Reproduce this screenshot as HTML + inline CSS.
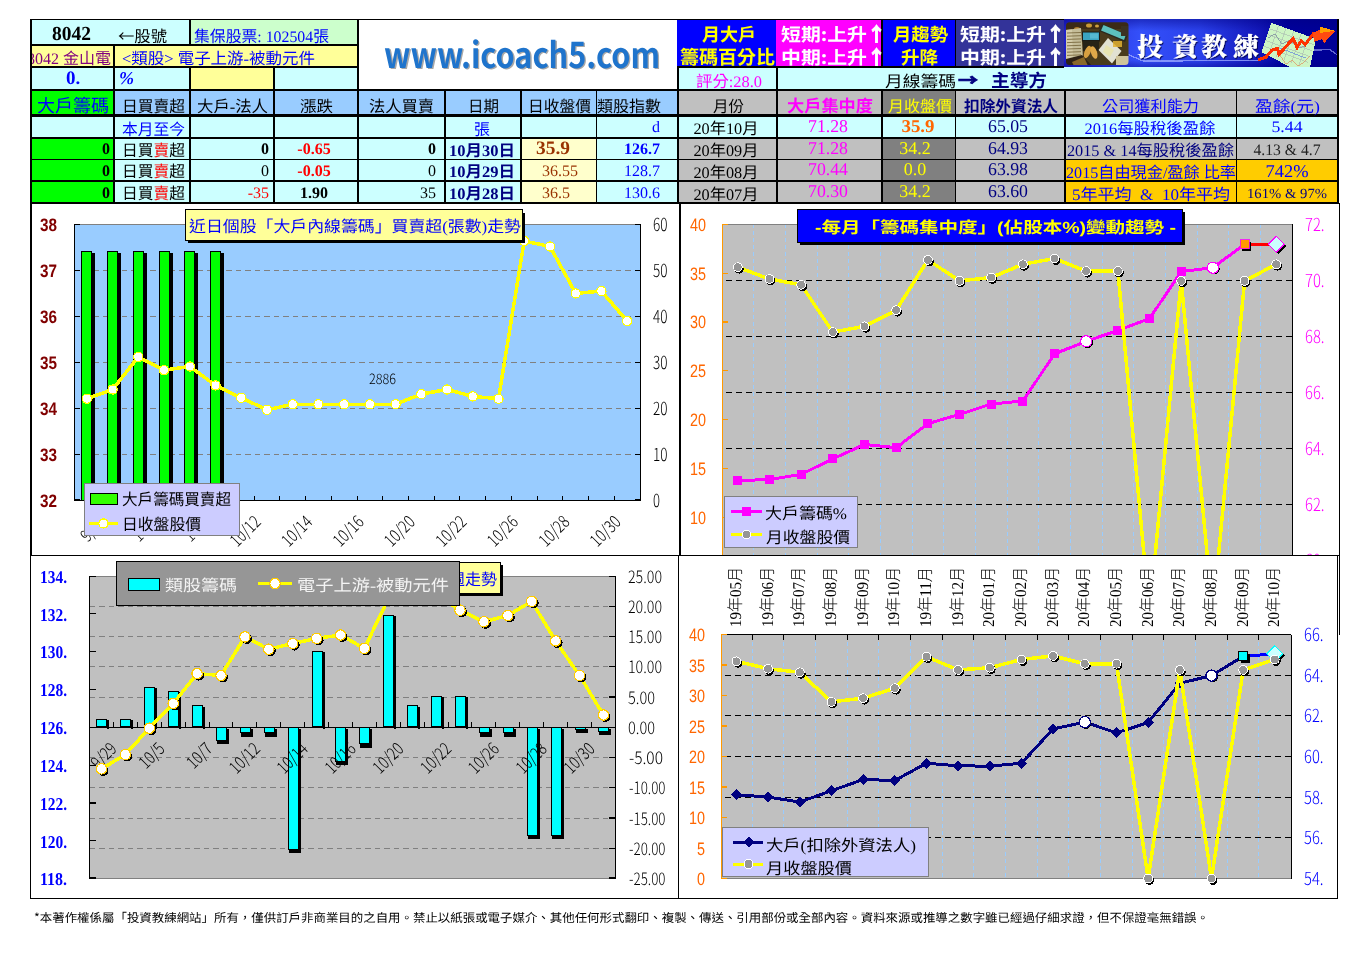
<!DOCTYPE html>
<html lang="zh-Hant"><head><meta charset="utf-8"><title>8042 金山電</title>
<style>
html,body{margin:0;padding:0;background:#fff;width:1366px;height:967px;overflow:hidden}
svg{display:block}
</style></head><body>
<svg width="1366" height="967" viewBox="0 0 1366 967" shape-rendering="crispEdges" text-rendering="geometricPrecision">
<rect x="30" y="19" width="1309" height="185" fill="#000" />
<rect x="32" y="20" width="157" height="24" fill="#CCFFFF" />
<rect x="191" y="20" width="166" height="24" fill="#CCFFCC" />
<rect x="359" y="20" width="318" height="69" fill="#FFFFFF" />
<rect x="677" y="20" width="99" height="46" fill="#0000FF" />
<rect x="776" y="20" width="105" height="46" fill="#FF00FF" />
<rect x="883" y="20" width="72" height="46" fill="#0000FF" />
<rect x="956" y="20" width="108" height="46" fill="#333399" />
<rect x="32" y="46" width="81" height="20" fill="#FFFF99" />
<rect x="115" y="46" width="242" height="20" fill="#FFFF99" />
<rect x="32" y="68" width="81" height="21" fill="#CCFFFF" />
<rect x="115" y="68" width="74" height="21" fill="#CCFFFF" />
<rect x="191" y="68" width="82" height="21" fill="#FFFF99" />
<rect x="275" y="68" width="82" height="21" fill="#CCFFFF" />
<rect x="679" y="68" width="97" height="21" fill="#CCFFFF" />
<rect x="778" y="68" width="559" height="21" fill="#CCFFFF" />
<rect x="1064" y="66" width="273" height="23" fill="#CCFFFF" />
<rect x="32" y="91" width="81" height="23" fill="#00FF00" />
<rect x="115" y="91" width="74" height="23" fill="#99CCFF" />
<rect x="191" y="91" width="82" height="23" fill="#99CCFF" />
<rect x="275" y="91" width="82" height="23" fill="#99CCFF" />
<rect x="359" y="91" width="85" height="23" fill="#99CCFF" />
<rect x="446" y="91" width="74" height="23" fill="#99CCFF" />
<rect x="522" y="91" width="74" height="23" fill="#99CCFF" />
<rect x="597" y="91" width="80" height="23" fill="#99CCFF" />
<rect x="679" y="91" width="97" height="23" fill="#C0C0C0" />
<rect x="778" y="91" width="103" height="23" fill="#C0C0C0" />
<rect x="883" y="91" width="72" height="23" fill="#808080" />
<rect x="956" y="91" width="108" height="23" fill="#C0C0C0" />
<rect x="1066" y="91" width="170" height="23" fill="#C0C0C0" />
<rect x="1237" y="91" width="100" height="23" fill="#C0C0C0" />
<rect x="32" y="117" width="81" height="20" fill="#CCFFFF" />
<rect x="115" y="117" width="74" height="20" fill="#CCFFFF" />
<rect x="191" y="117" width="82" height="20" fill="#CCFFFF" />
<rect x="275" y="117" width="82" height="20" fill="#CCFFFF" />
<rect x="359" y="117" width="85" height="20" fill="#CCFFFF" />
<rect x="446" y="117" width="74" height="20" fill="#CCFFFF" />
<rect x="522" y="117" width="74" height="20" fill="#CCFFFF" />
<rect x="597" y="117" width="80" height="20" fill="#CCFFFF" />
<rect x="679" y="117" width="97" height="20" fill="#CCFFFF" />
<rect x="778" y="117" width="103" height="20" fill="#CCFFFF" />
<rect x="883" y="117" width="72" height="20" fill="#CCFFFF" />
<rect x="956" y="117" width="108" height="20" fill="#CCFFFF" />
<rect x="1066" y="117" width="170" height="20" fill="#CCFFFF" />
<rect x="1237" y="117" width="100" height="20" fill="#CCFFFF" />
<rect x="32" y="139" width="81" height="20" fill="#00FF00" />
<rect x="115" y="139" width="74" height="20" fill="#CCFFFF" />
<rect x="191" y="139" width="82" height="20" fill="#CCFFFF" />
<rect x="275" y="139" width="82" height="20" fill="#CCFFFF" />
<rect x="359" y="139" width="85" height="20" fill="#CCFFFF" />
<rect x="446" y="139" width="74" height="20" fill="#CCFFFF" />
<rect x="522" y="139" width="74" height="20" fill="#FFFFCC" />
<rect x="597" y="139" width="80" height="20" fill="#CCFFFF" />
<rect x="32" y="160" width="81" height="20" fill="#00FF00" />
<rect x="115" y="160" width="74" height="20" fill="#CCFFFF" />
<rect x="191" y="160" width="82" height="20" fill="#CCFFFF" />
<rect x="275" y="160" width="82" height="20" fill="#CCFFFF" />
<rect x="359" y="160" width="85" height="20" fill="#CCFFFF" />
<rect x="446" y="160" width="74" height="20" fill="#CCFFFF" />
<rect x="522" y="160" width="74" height="20" fill="#FFFFCC" />
<rect x="597" y="160" width="80" height="20" fill="#CCFFFF" />
<rect x="32" y="182" width="81" height="20" fill="#00FF00" />
<rect x="115" y="182" width="74" height="20" fill="#CCFFFF" />
<rect x="191" y="182" width="82" height="20" fill="#CCFFFF" />
<rect x="275" y="182" width="82" height="20" fill="#CCFFFF" />
<rect x="359" y="182" width="85" height="20" fill="#CCFFFF" />
<rect x="446" y="182" width="74" height="20" fill="#CCFFFF" />
<rect x="522" y="182" width="74" height="20" fill="#FFFFCC" />
<rect x="597" y="182" width="80" height="20" fill="#CCFFFF" />
<rect x="679" y="139" width="97" height="20" fill="#C0C0C0" />
<rect x="778" y="139" width="103" height="20" fill="#C0C0C0" />
<rect x="883" y="139" width="72" height="20" fill="#808080" />
<rect x="956" y="139" width="108" height="20" fill="#C0C0C0" />
<rect x="679" y="160" width="97" height="20" fill="#C0C0C0" />
<rect x="778" y="160" width="103" height="20" fill="#C0C0C0" />
<rect x="883" y="160" width="72" height="20" fill="#808080" />
<rect x="956" y="160" width="108" height="20" fill="#C0C0C0" />
<rect x="679" y="182" width="97" height="20" fill="#C0C0C0" />
<rect x="778" y="182" width="103" height="20" fill="#C0C0C0" />
<rect x="883" y="182" width="72" height="20" fill="#808080" />
<rect x="956" y="182" width="108" height="20" fill="#C0C0C0" />
<rect x="1066" y="139" width="170" height="20" fill="#C0C0C0" />
<rect x="1237" y="139" width="100" height="20" fill="#C0C0C0" />
<rect x="1066" y="160" width="170" height="20" fill="#FFCC00" />
<rect x="1237" y="160" width="100" height="20" fill="#FFCC00" />
<rect x="1066" y="182" width="170" height="20" fill="#FFCC00" />
<rect x="1237" y="182" width="100" height="20" fill="#FFCC00" />
<text x="52" y="40" font-size="20" fill="#000" font-family="'Liberation Serif','Noto Sans CJK TC',serif" font-weight="bold" textLength="39" lengthAdjust="spacingAndGlyphs" >8042</text>
<text x="118" y="42" font-size="16" fill="#000" font-family="'Noto Sans CJK TC',sans-serif" textLength="49" lengthAdjust="spacingAndGlyphs" >←股號</text>
<text x="194" y="42" font-size="16" fill="#0000FF" font-family="'Liberation Serif','Noto Sans CJK TC',serif" textLength="135" lengthAdjust="spacingAndGlyphs" >集保股票: 102504張</text>
<defs><clipPath id="r2c1"><rect x="32" y="46" width="81" height="20"/></clipPath></defs>
<text x="111" y="64" font-size="16" fill="#800080" font-family="'Liberation Serif','Noto Sans CJK TC',serif" text-anchor="end" clip-path="url(#r2c1)">8042 金山電</text>
<text x="122" y="64" font-size="16" fill="#0000FF" font-family="'Liberation Serif','Noto Sans CJK TC',serif" textLength="193" lengthAdjust="spacingAndGlyphs" >&lt;類股&gt; 電子上游-被動元件</text>
<text x="66" y="84" font-size="19" fill="#0000FF" font-family="'Liberation Serif','Noto Sans CJK TC',serif" font-weight="bold" >0.</text>
<text x="119" y="84" font-size="18" fill="#0000FF" font-family="'Liberation Serif','Noto Sans CJK TC',serif" font-weight="bold" style="font-style:italic" >%</text>
<text x="696" y="87" font-size="16" fill="#FF00FF" font-family="'Liberation Serif','Noto Sans CJK TC',serif" textLength="66" lengthAdjust="spacingAndGlyphs" >評分:28.0</text>
<text x="885" y="87" font-size="16" fill="#000" font-family="'Liberation Serif','Noto Sans CJK TC',serif" textLength="71" lengthAdjust="spacingAndGlyphs" >月線籌碼</text>
<text x="958" y="86" font-size="16" fill="#000080" font-family="'Noto Sans CJK TC',sans-serif" font-weight="bold" textLength="20" lengthAdjust="spacingAndGlyphs" stroke="#000080" stroke-width="0.8">→</text>
<text x="991" y="87" font-size="18" fill="#000080" font-family="'Liberation Serif','Noto Sans CJK TC',serif" font-weight="bold" textLength="56" lengthAdjust="spacingAndGlyphs" >主導方</text>
<text x="702" y="41" font-size="18" fill="#FFFF00" font-family="'Liberation Sans','Noto Sans CJK TC',sans-serif" font-weight="bold" textLength="54" lengthAdjust="spacingAndGlyphs" >月大戶</text>
<text x="680" y="64" font-size="19" fill="#FFFF00" font-family="'Liberation Sans','Noto Sans CJK TC',sans-serif" font-weight="bold" textLength="95" lengthAdjust="spacingAndGlyphs" >籌碼百分比</text>
<text x="781" y="41" font-size="18" fill="#FFFFFF" font-family="'Noto Sans CJK TC',sans-serif" font-weight="bold" textLength="86" lengthAdjust="spacingAndGlyphs" >短期:上升</text>
<text x="867" y="41" font-size="19" fill="#FFFFFF" font-family="'Noto Sans CJK TC',sans-serif" font-weight="bold" stroke="#FFFFFF" stroke-width="0.9">↑</text>
<text x="781" y="64" font-size="18" fill="#FFFFFF" font-family="'Noto Sans CJK TC',sans-serif" font-weight="bold" textLength="86" lengthAdjust="spacingAndGlyphs" >中期:上升</text>
<text x="867" y="64" font-size="19" fill="#FFFFFF" font-family="'Noto Sans CJK TC',sans-serif" font-weight="bold" stroke="#FFFFFF" stroke-width="0.9">↑</text>
<text x="960" y="41" font-size="18" fill="#FFFFFF" font-family="'Noto Sans CJK TC',sans-serif" font-weight="bold" textLength="86" lengthAdjust="spacingAndGlyphs" >短期:上升</text>
<text x="1046" y="41" font-size="19" fill="#FFFFFF" font-family="'Noto Sans CJK TC',sans-serif" font-weight="bold" stroke="#FFFFFF" stroke-width="0.9">↑</text>
<text x="960" y="64" font-size="18" fill="#FFFFFF" font-family="'Noto Sans CJK TC',sans-serif" font-weight="bold" textLength="86" lengthAdjust="spacingAndGlyphs" >中期:上升</text>
<text x="1046" y="64" font-size="19" fill="#FFFFFF" font-family="'Noto Sans CJK TC',sans-serif" font-weight="bold" stroke="#FFFFFF" stroke-width="0.9">↑</text>
<text x="893" y="41" font-size="18" fill="#FFFF00" font-family="'Liberation Sans','Noto Sans CJK TC',sans-serif" font-weight="bold" textLength="55" lengthAdjust="spacingAndGlyphs" >月趨勢</text>
<text x="901" y="64" font-size="18" fill="#FFFF00" font-family="'Liberation Sans','Noto Sans CJK TC',sans-serif" font-weight="bold" textLength="37" lengthAdjust="spacingAndGlyphs" >升降</text>
<text x="37" y="112" font-size="18" fill="#0000FF" font-family="'Liberation Serif','Noto Sans CJK TC',serif" textLength="72" lengthAdjust="spacingAndGlyphs" >大戶籌碼</text>
<text x="122" y="112" font-size="16" fill="#000" font-family="'Liberation Serif','Noto Sans CJK TC',serif" textLength="63" lengthAdjust="spacingAndGlyphs" >日買賣超</text>
<text x="197" y="112" font-size="16" fill="#000" font-family="'Liberation Serif','Noto Sans CJK TC',serif" textLength="71" lengthAdjust="spacingAndGlyphs" >大戶-法人</text>
<text x="300" y="112" font-size="16" fill="#000" font-family="'Liberation Serif','Noto Sans CJK TC',serif" textLength="33" lengthAdjust="spacingAndGlyphs" >漲跌</text>
<text x="369" y="112" font-size="16" fill="#000" font-family="'Liberation Serif','Noto Sans CJK TC',serif" textLength="65" lengthAdjust="spacingAndGlyphs" >法人買賣</text>
<text x="468" y="112" font-size="16" fill="#000" font-family="'Liberation Serif','Noto Sans CJK TC',serif" textLength="31" lengthAdjust="spacingAndGlyphs" >日期</text>
<text x="528" y="112" font-size="16" fill="#000" font-family="'Liberation Serif','Noto Sans CJK TC',serif" textLength="63" lengthAdjust="spacingAndGlyphs" >日收盤價</text>
<text x="597" y="112" font-size="16" fill="#000" font-family="'Liberation Serif','Noto Sans CJK TC',serif" textLength="64" lengthAdjust="spacingAndGlyphs" >類股指數</text>
<text x="713" y="112" font-size="16" fill="#000" font-family="'Liberation Serif','Noto Sans CJK TC',serif" textLength="31" lengthAdjust="spacingAndGlyphs" >月份</text>
<text x="787" y="112" font-size="17" fill="#FF00FF" font-family="'Liberation Sans','Noto Sans CJK TC',sans-serif" font-weight="bold" textLength="86" lengthAdjust="spacingAndGlyphs" >大戶集中度</text>
<text x="888" y="112" font-size="16" fill="#FFFF00" font-family="'Liberation Serif','Noto Sans CJK TC',serif" textLength="64" lengthAdjust="spacingAndGlyphs" >月收盤價</text>
<text x="964" y="112" font-size="16" fill="#000080" font-family="'Liberation Sans','Noto Sans CJK TC',sans-serif" font-weight="bold" textLength="94" lengthAdjust="spacingAndGlyphs" >扣除外資法人</text>
<text x="1102" y="112" font-size="16" fill="#0000FF" font-family="'Liberation Serif','Noto Sans CJK TC',serif" textLength="97" lengthAdjust="spacingAndGlyphs" >公司獲利能力</text>
<text x="1255" y="112" font-size="16" fill="#0000FF" font-family="'Liberation Serif','Noto Sans CJK TC',serif" textLength="65" lengthAdjust="spacingAndGlyphs" >盈餘(元)</text>
<text x="122" y="135" font-size="16" fill="#0000FF" font-family="'Liberation Serif','Noto Sans CJK TC',serif" textLength="63" lengthAdjust="spacingAndGlyphs" >本月至今</text>
<text x="474" y="135" font-size="16" fill="#0000FF" font-family="'Liberation Serif','Noto Sans CJK TC',serif" >張</text>
<text x="660" y="132" font-size="16" fill="#0000FF" font-family="'Liberation Serif','Noto Sans CJK TC',serif" text-anchor="end" >d</text>
<text x="726" y="134" font-size="16" fill="#000" font-family="'Liberation Serif','Noto Sans CJK TC',serif" text-anchor="middle" textLength="65" lengthAdjust="spacingAndGlyphs" >20年10月</text>
<text x="828" y="132" font-size="18" fill="#FF00FF" font-family="'Liberation Serif','Noto Sans CJK TC',serif" text-anchor="middle" textLength="40" lengthAdjust="spacingAndGlyphs" >71.28</text>
<text x="918" y="132" font-size="18" fill="#FF6600" font-family="'Liberation Serif','Noto Sans CJK TC',serif" font-weight="bold" text-anchor="middle" textLength="33" lengthAdjust="spacingAndGlyphs" >35.9</text>
<text x="1008" y="132" font-size="18" fill="#000080" font-family="'Liberation Serif','Noto Sans CJK TC',serif" text-anchor="middle" textLength="40" lengthAdjust="spacingAndGlyphs" >65.05</text>
<text x="1150" y="134" font-size="16" fill="#0000FF" font-family="'Liberation Serif','Noto Sans CJK TC',serif" text-anchor="middle" textLength="131" lengthAdjust="spacingAndGlyphs" >2016每股稅後盈餘</text>
<text x="1287" y="132" font-size="16" fill="#0000FF" font-family="'Liberation Serif','Noto Sans CJK TC',serif" text-anchor="middle" textLength="31" lengthAdjust="spacingAndGlyphs" >5.44</text>
<text x="110" y="154" font-size="16" fill="#000" font-family="'Liberation Serif','Noto Sans CJK TC',serif" font-weight="bold" text-anchor="end" >0</text>
<text x="122" y="156" font-size="16" font-family="'Liberation Serif','Noto Sans CJK TC',serif" textLength="63" lengthAdjust="spacingAndGlyphs" fill="#000">日買<tspan fill="#FF0000">賣</tspan>超</text>
<text x="269" y="154" font-size="16" fill="#000" font-family="'Liberation Serif','Noto Sans CJK TC',serif" font-weight="bold" text-anchor="end" >0</text>
<text x="314" y="154" font-size="16" fill="#FF0000" font-family="'Liberation Serif','Noto Sans CJK TC',serif" font-weight="bold" text-anchor="middle" >-0.65</text>
<text x="436" y="154" font-size="16" fill="#000" font-family="'Liberation Serif','Noto Sans CJK TC',serif" font-weight="bold" text-anchor="end" >0</text>
<text x="449" y="156" font-size="16" fill="#000080" font-family="'Liberation Serif','Noto Sans CJK TC',serif" font-weight="bold" textLength="66" lengthAdjust="spacingAndGlyphs" >10月30日</text>
<text x="553" y="154" font-size="19" fill="#993300" font-family="'Liberation Serif','Noto Sans CJK TC',serif" font-weight="bold" text-anchor="middle" textLength="34" lengthAdjust="spacingAndGlyphs" >35.9</text>
<text x="660" y="154" font-size="16" fill="#0000FF" font-family="'Liberation Serif','Noto Sans CJK TC',serif" font-weight="bold" text-anchor="end" >126.7</text>
<text x="110" y="176" font-size="16" fill="#000" font-family="'Liberation Serif','Noto Sans CJK TC',serif" font-weight="bold" text-anchor="end" >0</text>
<text x="122" y="177" font-size="16" font-family="'Liberation Serif','Noto Sans CJK TC',serif" textLength="63" lengthAdjust="spacingAndGlyphs" fill="#000">日買<tspan fill="#FF0000">賣</tspan>超</text>
<text x="269" y="176" font-size="16" fill="#000" font-family="'Liberation Serif','Noto Sans CJK TC',serif" text-anchor="end" >0</text>
<text x="314" y="176" font-size="16" fill="#FF0000" font-family="'Liberation Serif','Noto Sans CJK TC',serif" font-weight="bold" text-anchor="middle" >-0.05</text>
<text x="436" y="176" font-size="16" fill="#000" font-family="'Liberation Serif','Noto Sans CJK TC',serif" text-anchor="end" >0</text>
<text x="449" y="177" font-size="16" fill="#000080" font-family="'Liberation Serif','Noto Sans CJK TC',serif" font-weight="bold" textLength="66" lengthAdjust="spacingAndGlyphs" >10月29日</text>
<text x="542" y="176" font-size="16" fill="#993300" font-family="'Liberation Serif','Noto Sans CJK TC',serif" >36.55</text>
<text x="660" y="176" font-size="16" fill="#0000FF" font-family="'Liberation Serif','Noto Sans CJK TC',serif" text-anchor="end" >128.7</text>
<text x="110" y="198" font-size="16" fill="#000" font-family="'Liberation Serif','Noto Sans CJK TC',serif" font-weight="bold" text-anchor="end" >0</text>
<text x="122" y="199" font-size="16" font-family="'Liberation Serif','Noto Sans CJK TC',serif" textLength="63" lengthAdjust="spacingAndGlyphs" fill="#000">日買<tspan fill="#FF0000">賣</tspan>超</text>
<text x="269" y="198" font-size="16" fill="#FF0000" font-family="'Liberation Serif','Noto Sans CJK TC',serif" text-anchor="end" >-35</text>
<text x="314" y="198" font-size="16" fill="#000" font-family="'Liberation Serif','Noto Sans CJK TC',serif" font-weight="bold" text-anchor="middle" >1.90</text>
<text x="436" y="198" font-size="16" fill="#000" font-family="'Liberation Serif','Noto Sans CJK TC',serif" text-anchor="end" >35</text>
<text x="449" y="199" font-size="16" fill="#000080" font-family="'Liberation Serif','Noto Sans CJK TC',serif" font-weight="bold" textLength="66" lengthAdjust="spacingAndGlyphs" >10月28日</text>
<text x="542" y="198" font-size="16" fill="#993300" font-family="'Liberation Serif','Noto Sans CJK TC',serif" >36.5</text>
<text x="660" y="198" font-size="16" fill="#0000FF" font-family="'Liberation Serif','Noto Sans CJK TC',serif" text-anchor="end" >130.6</text>
<text x="726" y="156" font-size="16" fill="#000" font-family="'Liberation Serif','Noto Sans CJK TC',serif" text-anchor="middle" textLength="65" lengthAdjust="spacingAndGlyphs" >20年09月</text>
<text x="828" y="154" font-size="18" fill="#FF00FF" font-family="'Liberation Serif','Noto Sans CJK TC',serif" text-anchor="middle" textLength="40" lengthAdjust="spacingAndGlyphs" >71.28</text>
<text x="915" y="154" font-size="18" fill="#FFFF00" font-family="'Liberation Serif','Noto Sans CJK TC',serif" text-anchor="middle" >34.2</text>
<text x="1008" y="154" font-size="18" fill="#000080" font-family="'Liberation Serif','Noto Sans CJK TC',serif" text-anchor="middle" textLength="40" lengthAdjust="spacingAndGlyphs" >64.93</text>
<text x="726" y="178" font-size="16" fill="#000" font-family="'Liberation Serif','Noto Sans CJK TC',serif" text-anchor="middle" textLength="65" lengthAdjust="spacingAndGlyphs" >20年08月</text>
<text x="828" y="175" font-size="18" fill="#FF00FF" font-family="'Liberation Serif','Noto Sans CJK TC',serif" text-anchor="middle" textLength="40" lengthAdjust="spacingAndGlyphs" >70.44</text>
<text x="915" y="175" font-size="18" fill="#FFFF00" font-family="'Liberation Serif','Noto Sans CJK TC',serif" text-anchor="middle" >0.0</text>
<text x="1008" y="175" font-size="18" fill="#000080" font-family="'Liberation Serif','Noto Sans CJK TC',serif" text-anchor="middle" textLength="40" lengthAdjust="spacingAndGlyphs" >63.98</text>
<text x="726" y="200" font-size="16" fill="#000" font-family="'Liberation Serif','Noto Sans CJK TC',serif" text-anchor="middle" textLength="65" lengthAdjust="spacingAndGlyphs" >20年07月</text>
<text x="828" y="197" font-size="18" fill="#FF00FF" font-family="'Liberation Serif','Noto Sans CJK TC',serif" text-anchor="middle" textLength="40" lengthAdjust="spacingAndGlyphs" >70.30</text>
<text x="915" y="197" font-size="18" fill="#FFFF00" font-family="'Liberation Serif','Noto Sans CJK TC',serif" text-anchor="middle" >34.2</text>
<text x="1008" y="197" font-size="18" fill="#000080" font-family="'Liberation Serif','Noto Sans CJK TC',serif" text-anchor="middle" textLength="40" lengthAdjust="spacingAndGlyphs" >63.60</text>
<text x="1067" y="156" font-size="16" fill="#000080" font-family="'Liberation Serif','Noto Sans CJK TC',serif" textLength="167" lengthAdjust="spacingAndGlyphs" >2015 &amp; 14每股稅後盈餘</text>
<text x="1287" y="155" font-size="16" fill="#222" font-family="'Liberation Serif','Noto Sans CJK TC',serif" text-anchor="middle" textLength="67" lengthAdjust="spacingAndGlyphs" >4.13 &amp; 4.7</text>
<text x="1066" y="178" font-size="16" fill="#0000FF" font-family="'Liberation Serif','Noto Sans CJK TC',serif" textLength="170" lengthAdjust="spacingAndGlyphs" >2015自由現金/盈餘 比率</text>
<text x="1287" y="177" font-size="18" fill="#0000FF" font-family="'Liberation Serif','Noto Sans CJK TC',serif" text-anchor="middle" textLength="43" lengthAdjust="spacingAndGlyphs" >742%</text>
<text x="1072" y="200" font-size="16" fill="#0000FF" font-family="'Liberation Serif','Noto Sans CJK TC',serif" textLength="158" lengthAdjust="spacingAndGlyphs" style="white-space:pre" xml:space="preserve">5年平均 &#160;&amp;&#160; 10年平均</text>
<text x="1287" y="198" font-size="14" fill="#000080" font-family="'Liberation Serif','Noto Sans CJK TC',serif" text-anchor="middle" textLength="80" lengthAdjust="spacingAndGlyphs" >161% &amp; 97%</text>
<text x="385.4" y="69.1" font-size="35.5" fill="#a8a8a8" font-family="'Noto Sans CJK TC',sans-serif" font-weight="bold" textLength="276" lengthAdjust="spacingAndGlyphs" >www.icoach5.com</text>
<text x="384" y="67.6" font-size="35.5" fill="#1F74CC" font-family="'Noto Sans CJK TC',sans-serif" font-weight="bold" textLength="276" lengthAdjust="spacingAndGlyphs" >www.icoach5.com</text>
<defs>
<linearGradient id="bg1" x1="0" y1="0" x2="1" y2="0">
<stop offset="0" stop-color="#2020c8"/><stop offset="0.28" stop-color="#3450fa"/><stop offset="0.5" stop-color="#2a40ea"/><stop offset="0.72" stop-color="#1216b8"/><stop offset="0.82" stop-color="#00009c"/><stop offset="1" stop-color="#000094"/>
</linearGradient>
<linearGradient id="bg2" x1="0" y1="0" x2="0" y2="1">
<stop offset="0" stop-color="#000080" stop-opacity="0.45"/><stop offset="0.25" stop-color="#000080" stop-opacity="0"/><stop offset="0.85" stop-color="#000080" stop-opacity="0"/><stop offset="1" stop-color="#000080" stop-opacity="0.4"/>
</linearGradient>
<clipPath id="bclip"><rect x="1064" y="19" width="273" height="48"/></clipPath>
<clipPath id="phclip"><rect x="1066" y="22.3" width="62.5" height="42.7" rx="3.5"/></clipPath>
<filter id="phblur" x="0" y="0" width="1" height="1"><feGaussianBlur stdDeviation="0.45"/></filter>
<filter id="tsh" x="-10%" y="-10%" width="130%" height="130%"><feDropShadow dx="1" dy="1.2" stdDeviation="0.6" flood-color="#000040" flood-opacity="0.8"/></filter>
</defs>
<g clip-path="url(#bclip)">
<rect x="1064" y="19" width="273" height="48" fill="url(#bg1)" />
<rect x="1064" y="19" width="273" height="48" fill="url(#bg2)" />
<polyline points="1128,54.5 1143,61 1258,60.6" fill="none" stroke="#9aa8ff" stroke-width="1.3" opacity="0.8"/>
<polyline points="1314,50 1330,49.7 1338,55.4" fill="none" stroke="#7a80e0" stroke-width="1.3" opacity="0.8"/>
<g clip-path="url(#phclip)" shape-rendering="auto" filter="url(#phblur)">
<rect x="1066" y="22" width="63" height="44" fill="#4a3a1e" />
<rect x="1066" y="22" width="63" height="7" fill="#3a2c14"/>
<ellipse cx="1089" cy="25.5" rx="3" ry="2" fill="#c89a38"/>
<ellipse cx="1097" cy="26" rx="2" ry="1.6" fill="#d0a040"/>
<ellipse cx="1077" cy="29" rx="3" ry="2" fill="#b07a28"/>
<polygon points="1066,30 1081,28 1083,58 1066,60" fill="#c4bc98"/>
<polygon points="1066,30 1072,29.5 1073,59 1066,60" fill="#d4ccaa"/>
<line x1="1067" y1="33.0" x2="1081" y2="32.5" stroke="#7a6a40" stroke-width="0.9"/>
<line x1="1067" y1="36.2" x2="1081" y2="35.7" stroke="#7a6a40" stroke-width="0.9"/>
<line x1="1067" y1="39.4" x2="1081" y2="38.9" stroke="#7a6a40" stroke-width="0.9"/>
<line x1="1067" y1="42.6" x2="1081" y2="42.1" stroke="#7a6a40" stroke-width="0.9"/>
<line x1="1067" y1="45.8" x2="1081" y2="45.3" stroke="#7a6a40" stroke-width="0.9"/>
<line x1="1067" y1="49.0" x2="1081" y2="48.5" stroke="#7a6a40" stroke-width="0.9"/>
<line x1="1067" y1="52.2" x2="1081" y2="51.7" stroke="#7a6a40" stroke-width="0.9"/>
<line x1="1067" y1="55.4" x2="1081" y2="54.9" stroke="#7a6a40" stroke-width="0.9"/>
<rect x="1082" y="31.5" width="18" height="10" fill="#1e1a12"/>
<rect x="1083" y="32.5" width="16" height="7.5" fill="#3aa4c2"/>
<rect x="1090" y="33.5" width="8" height="5" fill="#56b8d0"/>
<rect x="1083" y="41" width="16" height="10" fill="#262014"/>
<polygon points="1102,24 1128,35 1125,42 1099,31" fill="#2a2a20"/>
<polygon points="1103.5,25 1126,34.5 1124,40 1101,30.5" fill="#5cc0bc"/>
<polygon points="1108,38 1121.5,51 1112,63.5 1098.5,50" fill="#e2e2d2"/>
<polygon points="1106,45 1114,50 1110,57 1103,52" fill="#e8e4b0"/>
<ellipse cx="1087.5" cy="52" rx="3" ry="6.5" fill="#d8a040" transform="rotate(22 1087.5 52)"/>
<ellipse cx="1094" cy="52.5" rx="3" ry="6.5" fill="#e0a848" transform="rotate(-18 1094 52.5)"/>
<polygon points="1066,59 1082,55 1092,66 1066,66" fill="#2e2414"/>
<polygon points="1072,62 1084,57 1088,66 1074,66" fill="#a07830" opacity="0.8"/>
<rect x="1116" y="56" width="13" height="10" fill="#cfc49a"/>
<rect x="1113" y="41" width="9" height="6" fill="#e0b030" opacity="0.85"/>
<rect x="1121" y="26" width="8" height="10" fill="#3a3020"/>
</g>
<g filter="url(#tsh)">
<text x="1137 1172 1201 1233" y="55.5" font-size="26" font-weight="900" fill="#fff" font-family="'Noto Serif CJK SC',serif">投資教練</text>
</g>
<polygon points="1271.2,22.7 1316,39 1310,67 1290,67 1261.4,52" fill="#cdf5c4"/>
<line x1="1278.7" y1="25.4" x2="1268.9" y2="54.7" stroke="#a8b8b0" stroke-width="0.6"/>
<line x1="1286.1" y1="28.1" x2="1276.3" y2="57.4" stroke="#a8b8b0" stroke-width="0.6"/>
<line x1="1293.6" y1="30.9" x2="1283.8" y2="60.2" stroke="#a8b8b0" stroke-width="0.6"/>
<line x1="1301.1" y1="33.6" x2="1291.3" y2="62.9" stroke="#a8b8b0" stroke-width="0.6"/>
<line x1="1308.5" y1="36.3" x2="1298.7" y2="65.6" stroke="#a8b8b0" stroke-width="0.6"/>
<line x1="1269.2" y1="28.6" x2="1314.0" y2="44.9" stroke="#a8b8b0" stroke-width="0.6"/>
<line x1="1267.3" y1="34.4" x2="1312.1" y2="50.7" stroke="#a8b8b0" stroke-width="0.6"/>
<line x1="1265.3" y1="40.3" x2="1310.1" y2="56.6" stroke="#a8b8b0" stroke-width="0.6"/>
<line x1="1263.4" y1="46.1" x2="1308.2" y2="62.4" stroke="#a8b8b0" stroke-width="0.6"/>
<polyline points="1268,38 1275,34 1282,44 1290,40 1298,48 1306,46" fill="none" stroke="#8090a0" stroke-width="0.8"/>
<polyline points="1280,48 1290,52 1300,56 1306,58" fill="none" stroke="#6080e0" stroke-width="0.7"/>
<polyline points="1278,52 1282,58 1286,64 1292,60 1298,66 1304,62 1310,56" fill="none" stroke="#e09060" stroke-width="0.7"/>
<polyline points="1258,59.8 1265.5,57.4 1272.2,50 1277.6,48.6 1279,54.4 1293.1,38.5 1297.1,47.3 1301.2,40.9 1305.2,44.6 1313.3,33.8 1318,36" fill="none" stroke="#ff3300" stroke-width="3.2" stroke-linejoin="miter"/>
<polygon points="1313,33 1320,29.5 1319.5,26.5 1335.2,30.8 1324,43.3 1322,39 1314,42" fill="#ff4a10"/>
<polygon points="1319.5,26.5 1335.2,30.8 1320,33" fill="#ffa000"/>
</g>
<rect x="74" y="224.5" width="566" height="276" fill="#99CCFF" />
<line x1="74" y1="224.5" x2="640" y2="224.5" stroke="#808080" stroke-width="1" />
<line x1="74" y1="454.4" x2="640" y2="454.4" stroke="#808080" stroke-width="1" stroke-dasharray="5.5,4" />
<line x1="74" y1="408.4" x2="640" y2="408.4" stroke="#808080" stroke-width="1" stroke-dasharray="5.5,4" />
<line x1="74" y1="362.4" x2="640" y2="362.4" stroke="#808080" stroke-width="1" stroke-dasharray="5.5,4" />
<line x1="74" y1="316.4" x2="640" y2="316.4" stroke="#808080" stroke-width="1" stroke-dasharray="5.5,4" />
<line x1="74" y1="270.4" x2="640" y2="270.4" stroke="#808080" stroke-width="1" stroke-dasharray="5.5,4" />
<rect x="92" y="253" width="2.5" height="248" fill="#000" />
<rect x="81.5" y="251.5" width="10" height="249" fill="#00FF00" stroke="#000" stroke-width="1"/>
<rect x="118" y="253" width="2.5" height="248" fill="#000" />
<rect x="107.5" y="251.5" width="10" height="249" fill="#00FF00" stroke="#000" stroke-width="1"/>
<rect x="144" y="253" width="2.5" height="248" fill="#000" />
<rect x="133.5" y="251.5" width="10" height="249" fill="#00FF00" stroke="#000" stroke-width="1"/>
<rect x="170" y="253" width="2.5" height="248" fill="#000" />
<rect x="159.5" y="251.5" width="10" height="249" fill="#00FF00" stroke="#000" stroke-width="1"/>
<rect x="195" y="253" width="2.5" height="248" fill="#000" />
<rect x="184.5" y="251.5" width="10" height="249" fill="#00FF00" stroke="#000" stroke-width="1"/>
<rect x="221" y="253" width="2.5" height="248" fill="#000" />
<rect x="210.5" y="251.5" width="10" height="249" fill="#00FF00" stroke="#000" stroke-width="1"/>
<line x1="74.5" y1="224" x2="74.5" y2="501" stroke="#000" stroke-width="1" />
<line x1="640.5" y1="224" x2="640.5" y2="501" stroke="#000" stroke-width="1" />
<line x1="74" y1="500.7" x2="641" y2="500.7" stroke="#000" stroke-width="1.5" />
<line x1="99.72727272727272" y1="495.5" x2="99.72727272727272" y2="500.5" stroke="#000" stroke-width="1" />
<line x1="125.45454545454545" y1="495.5" x2="125.45454545454545" y2="500.5" stroke="#000" stroke-width="1" />
<line x1="151.1818181818182" y1="495.5" x2="151.1818181818182" y2="500.5" stroke="#000" stroke-width="1" />
<line x1="176.9090909090909" y1="495.5" x2="176.9090909090909" y2="500.5" stroke="#000" stroke-width="1" />
<line x1="202.63636363636363" y1="495.5" x2="202.63636363636363" y2="500.5" stroke="#000" stroke-width="1" />
<line x1="228.36363636363637" y1="495.5" x2="228.36363636363637" y2="500.5" stroke="#000" stroke-width="1" />
<line x1="254.0909090909091" y1="495.5" x2="254.0909090909091" y2="500.5" stroke="#000" stroke-width="1" />
<line x1="279.8181818181818" y1="495.5" x2="279.8181818181818" y2="500.5" stroke="#000" stroke-width="1" />
<line x1="305.5454545454545" y1="495.5" x2="305.5454545454545" y2="500.5" stroke="#000" stroke-width="1" />
<line x1="331.27272727272725" y1="495.5" x2="331.27272727272725" y2="500.5" stroke="#000" stroke-width="1" />
<line x1="357.0" y1="495.5" x2="357.0" y2="500.5" stroke="#000" stroke-width="1" />
<line x1="382.72727272727275" y1="495.5" x2="382.72727272727275" y2="500.5" stroke="#000" stroke-width="1" />
<line x1="408.45454545454544" y1="495.5" x2="408.45454545454544" y2="500.5" stroke="#000" stroke-width="1" />
<line x1="434.1818181818182" y1="495.5" x2="434.1818181818182" y2="500.5" stroke="#000" stroke-width="1" />
<line x1="459.9090909090909" y1="495.5" x2="459.9090909090909" y2="500.5" stroke="#000" stroke-width="1" />
<line x1="485.6363636363636" y1="495.5" x2="485.6363636363636" y2="500.5" stroke="#000" stroke-width="1" />
<line x1="511.3636363636364" y1="495.5" x2="511.3636363636364" y2="500.5" stroke="#000" stroke-width="1" />
<line x1="537.090909090909" y1="495.5" x2="537.090909090909" y2="500.5" stroke="#000" stroke-width="1" />
<line x1="562.8181818181818" y1="495.5" x2="562.8181818181818" y2="500.5" stroke="#000" stroke-width="1" />
<line x1="588.5454545454545" y1="495.5" x2="588.5454545454545" y2="500.5" stroke="#000" stroke-width="1" />
<line x1="614.2727272727273" y1="495.5" x2="614.2727272727273" y2="500.5" stroke="#000" stroke-width="1" />
<line x1="635" y1="499.47999999999985" x2="640" y2="499.47999999999985" stroke="#000" stroke-width="1.2" />
<line x1="74" y1="499.47999999999985" x2="80" y2="499.47999999999985" stroke="#000" stroke-width="1.2" />
<line x1="635" y1="454.4" x2="640" y2="454.4" stroke="#000" stroke-width="1.2" />
<line x1="74" y1="454.4" x2="80" y2="454.4" stroke="#000" stroke-width="1.2" />
<line x1="635" y1="408.4" x2="640" y2="408.4" stroke="#000" stroke-width="1.2" />
<line x1="74" y1="408.4" x2="80" y2="408.4" stroke="#000" stroke-width="1.2" />
<line x1="635" y1="362.4" x2="640" y2="362.4" stroke="#000" stroke-width="1.2" />
<line x1="74" y1="362.4" x2="80" y2="362.4" stroke="#000" stroke-width="1.2" />
<line x1="635" y1="316.4" x2="640" y2="316.4" stroke="#000" stroke-width="1.2" />
<line x1="74" y1="316.4" x2="80" y2="316.4" stroke="#000" stroke-width="1.2" />
<line x1="635" y1="270.4" x2="640" y2="270.4" stroke="#000" stroke-width="1.2" />
<line x1="74" y1="270.4" x2="80" y2="270.4" stroke="#000" stroke-width="1.2" />
<line x1="635" y1="224.8599999999999" x2="640" y2="224.8599999999999" stroke="#000" stroke-width="1.2" />
<line x1="74" y1="224.8599999999999" x2="80" y2="224.8599999999999" stroke="#000" stroke-width="1.2" />
<polyline points="86.9,398.7 112.6,389.5 138.3,356.9 164.0,370.2 189.8,366.5 215.5,385.4 241.2,397.8 267.0,409.8 292.7,404.3 318.4,404.3 344.1,404.3 369.9,404.3 395.6,404.3 421.3,394.1 447.0,389.5 472.8,396.4 498.5,398.7 524.2,241.0 550.0,246.5 575.7,293.4 601.4,291.1 627.1,321.0" fill="none" stroke="#FFFF00" stroke-width="3.5" stroke-linejoin="round"/>
<circle cx="86.9" cy="398.7" r="4.6" fill="#FFFFFF" stroke="#FFFF00" stroke-width="1.2"/>
<circle cx="112.6" cy="389.5" r="4.6" fill="#FFFFFF" stroke="#FFFF00" stroke-width="1.2"/>
<circle cx="138.3" cy="356.9" r="4.6" fill="#FFFFFF" stroke="#FFFF00" stroke-width="1.2"/>
<circle cx="164.0" cy="370.2" r="4.6" fill="#FFFFFF" stroke="#FFFF00" stroke-width="1.2"/>
<circle cx="189.8" cy="366.5" r="4.6" fill="#FFFFFF" stroke="#FFFF00" stroke-width="1.2"/>
<circle cx="215.5" cy="385.4" r="4.6" fill="#FFFFFF" stroke="#FFFF00" stroke-width="1.2"/>
<circle cx="241.2" cy="397.8" r="4.6" fill="#FFFFFF" stroke="#FFFF00" stroke-width="1.2"/>
<circle cx="267.0" cy="409.8" r="4.6" fill="#FFFFFF" stroke="#FFFF00" stroke-width="1.2"/>
<circle cx="292.7" cy="404.3" r="4.6" fill="#FFFFFF" stroke="#FFFF00" stroke-width="1.2"/>
<circle cx="318.4" cy="404.3" r="4.6" fill="#FFFFFF" stroke="#FFFF00" stroke-width="1.2"/>
<circle cx="344.1" cy="404.3" r="4.6" fill="#FFFFFF" stroke="#FFFF00" stroke-width="1.2"/>
<circle cx="369.9" cy="404.3" r="4.6" fill="#FFFFFF" stroke="#FFFF00" stroke-width="1.2"/>
<circle cx="395.6" cy="404.3" r="4.6" fill="#FFFFFF" stroke="#FFFF00" stroke-width="1.2"/>
<circle cx="421.3" cy="394.1" r="4.6" fill="#FFFFFF" stroke="#FFFF00" stroke-width="1.2"/>
<circle cx="447.0" cy="389.5" r="4.6" fill="#FFFFFF" stroke="#FFFF00" stroke-width="1.2"/>
<circle cx="472.8" cy="396.4" r="4.6" fill="#FFFFFF" stroke="#FFFF00" stroke-width="1.2"/>
<circle cx="498.5" cy="398.7" r="4.6" fill="#FFFFFF" stroke="#FFFF00" stroke-width="1.2"/>
<circle cx="524.2" cy="241.0" r="4.6" fill="#FFFFFF" stroke="#FFFF00" stroke-width="1.2"/>
<circle cx="550.0" cy="246.5" r="4.6" fill="#FFFFFF" stroke="#FFFF00" stroke-width="1.2"/>
<circle cx="575.7" cy="293.4" r="4.6" fill="#FFFFFF" stroke="#FFFF00" stroke-width="1.2"/>
<circle cx="601.4" cy="291.1" r="4.6" fill="#FFFFFF" stroke="#FFFF00" stroke-width="1.2"/>
<circle cx="627.1" cy="321.0" r="4.6" fill="#FFFFFF" stroke="#FFFF00" stroke-width="1.2"/>
<text x="57" y="230.89999999999998" font-size="18" fill="#800000" font-family="'Liberation Sans','Noto Sans CJK TC',sans-serif" font-weight="bold" text-anchor="end" textLength="17" lengthAdjust="spacingAndGlyphs" >38</text>
<text x="57" y="276.9" font-size="18" fill="#800000" font-family="'Liberation Sans','Noto Sans CJK TC',sans-serif" font-weight="bold" text-anchor="end" textLength="17" lengthAdjust="spacingAndGlyphs" >37</text>
<text x="57" y="322.9" font-size="18" fill="#800000" font-family="'Liberation Sans','Noto Sans CJK TC',sans-serif" font-weight="bold" text-anchor="end" textLength="17" lengthAdjust="spacingAndGlyphs" >36</text>
<text x="57" y="368.9" font-size="18" fill="#800000" font-family="'Liberation Sans','Noto Sans CJK TC',sans-serif" font-weight="bold" text-anchor="end" textLength="17" lengthAdjust="spacingAndGlyphs" >35</text>
<text x="57" y="414.9" font-size="18" fill="#800000" font-family="'Liberation Sans','Noto Sans CJK TC',sans-serif" font-weight="bold" text-anchor="end" textLength="17" lengthAdjust="spacingAndGlyphs" >34</text>
<text x="57" y="460.9" font-size="18" fill="#800000" font-family="'Liberation Sans','Noto Sans CJK TC',sans-serif" font-weight="bold" text-anchor="end" textLength="17" lengthAdjust="spacingAndGlyphs" >33</text>
<text x="57" y="506.9" font-size="18" fill="#800000" font-family="'Liberation Sans','Noto Sans CJK TC',sans-serif" font-weight="bold" text-anchor="end" textLength="17" lengthAdjust="spacingAndGlyphs" >32</text>
<text x="653" y="231.09999999999997" font-size="18" fill="#000" font-family="'Noto Sans CJK TC',sans-serif" font-weight="300" textLength="14.5" lengthAdjust="spacingAndGlyphs" >60</text>
<text x="653" y="277.09999999999997" font-size="18" fill="#000" font-family="'Noto Sans CJK TC',sans-serif" font-weight="300" textLength="14.5" lengthAdjust="spacingAndGlyphs" >50</text>
<text x="653" y="323.09999999999997" font-size="18" fill="#000" font-family="'Noto Sans CJK TC',sans-serif" font-weight="300" textLength="14.5" lengthAdjust="spacingAndGlyphs" >40</text>
<text x="653" y="369.09999999999997" font-size="18" fill="#000" font-family="'Noto Sans CJK TC',sans-serif" font-weight="300" textLength="14.5" lengthAdjust="spacingAndGlyphs" >30</text>
<text x="653" y="415.09999999999997" font-size="18" fill="#000" font-family="'Noto Sans CJK TC',sans-serif" font-weight="300" textLength="14.5" lengthAdjust="spacingAndGlyphs" >20</text>
<text x="653" y="461.09999999999997" font-size="18" fill="#000" font-family="'Noto Sans CJK TC',sans-serif" font-weight="300" textLength="14.5" lengthAdjust="spacingAndGlyphs" >10</text>
<text x="653" y="507.09999999999997" font-size="18" fill="#000" font-family="'Noto Sans CJK TC',sans-serif" font-weight="300" textLength="7" lengthAdjust="spacingAndGlyphs" >0</text>
<text x="107.6" y="523" font-size="17" font-weight="300" font-family="'Noto Sans CJK TC',sans-serif" text-anchor="end" textLength="28.0" lengthAdjust="spacingAndGlyphs" transform="rotate(-45 107.6 523)">9/29</text>
<text x="159.0" y="523" font-size="17" font-weight="300" font-family="'Noto Sans CJK TC',sans-serif" text-anchor="end" textLength="28.0" lengthAdjust="spacingAndGlyphs" transform="rotate(-45 159.0 523)">10/5</text>
<text x="210.5" y="523" font-size="17" font-weight="300" font-family="'Noto Sans CJK TC',sans-serif" text-anchor="end" textLength="28.0" lengthAdjust="spacingAndGlyphs" transform="rotate(-45 210.5 523)">10/7</text>
<text x="262.0" y="523" font-size="17" font-weight="300" font-family="'Noto Sans CJK TC',sans-serif" text-anchor="end" textLength="35.0" lengthAdjust="spacingAndGlyphs" transform="rotate(-45 262.0 523)">10/12</text>
<text x="313.4" y="523" font-size="17" font-weight="300" font-family="'Noto Sans CJK TC',sans-serif" text-anchor="end" textLength="35.0" lengthAdjust="spacingAndGlyphs" transform="rotate(-45 313.4 523)">10/14</text>
<text x="364.9" y="523" font-size="17" font-weight="300" font-family="'Noto Sans CJK TC',sans-serif" text-anchor="end" textLength="35.0" lengthAdjust="spacingAndGlyphs" transform="rotate(-45 364.9 523)">10/16</text>
<text x="416.3" y="523" font-size="17" font-weight="300" font-family="'Noto Sans CJK TC',sans-serif" text-anchor="end" textLength="35.0" lengthAdjust="spacingAndGlyphs" transform="rotate(-45 416.3 523)">10/20</text>
<text x="467.8" y="523" font-size="17" font-weight="300" font-family="'Noto Sans CJK TC',sans-serif" text-anchor="end" textLength="35.0" lengthAdjust="spacingAndGlyphs" transform="rotate(-45 467.8 523)">10/22</text>
<text x="519.2" y="523" font-size="17" font-weight="300" font-family="'Noto Sans CJK TC',sans-serif" text-anchor="end" textLength="35.0" lengthAdjust="spacingAndGlyphs" transform="rotate(-45 519.2 523)">10/26</text>
<text x="570.7" y="523" font-size="17" font-weight="300" font-family="'Noto Sans CJK TC',sans-serif" text-anchor="end" textLength="35.0" lengthAdjust="spacingAndGlyphs" transform="rotate(-45 570.7 523)">10/28</text>
<text x="622.1" y="523" font-size="17" font-weight="300" font-family="'Noto Sans CJK TC',sans-serif" text-anchor="end" textLength="35.0" lengthAdjust="spacingAndGlyphs" transform="rotate(-45 622.1 523)">10/30</text>
<text x="369" y="384" font-size="14" fill="#000" font-family="'Noto Sans CJK TC',sans-serif" font-weight="300" textLength="27" lengthAdjust="spacingAndGlyphs" >2886</text>
<rect x="188" y="212.5" width="337" height="30.5" fill="#000" />
<rect x="185" y="209.5" width="337" height="30.5" fill="#FFFF99" stroke="#000" stroke-width="1"/>
<text x="189" y="232" font-size="16" fill="#0000FF" font-family="'Liberation Serif','Noto Sans CJK TC',serif" textLength="332" lengthAdjust="spacingAndGlyphs" >近日個股「大戶內線籌碼」買賣超(張數)走勢</text>
<rect x="84.5" y="483.5" width="155" height="52" fill="#CCCCFF" stroke="#808080" stroke-width="1"/>
<rect x="90" y="493" width="27" height="11" fill="#33FF00" stroke="#000" stroke-width="1"/>
<text x="122" y="505" font-size="16" fill="#000" font-family="'Liberation Serif','Noto Sans CJK TC',serif" textLength="109" lengthAdjust="spacingAndGlyphs" >大戶籌碼買賣超</text>
<line x1="89" y1="523.5" x2="118" y2="523.5" stroke="#FFFF00" stroke-width="3" />
<circle cx="103.5" cy="523.5" r="4.6" fill="#FFFFFF" stroke="#FFFF00" stroke-width="1.2"/>
<text x="122" y="530" font-size="16" fill="#000" font-family="'Liberation Serif','Noto Sans CJK TC',serif" textLength="79" lengthAdjust="spacingAndGlyphs" >日收盤股價</text>
<rect x="30" y="203" width="2" height="352" fill="#000" />
<rect x="679" y="203" width="2" height="352" fill="#000" />
<defs><clipPath id="c2clip"><rect x="681" y="204" width="658" height="351"/></clipPath></defs>
<g clip-path="url(#c2clip)">
<rect x="722.0" y="224" width="570.0" height="340" fill="#C0C0C0" />
<line x1="753.67" y1="224" x2="753.67" y2="560" stroke="#99CCFF" stroke-width="1" stroke-dasharray="4,3" />
<line x1="785.34" y1="224" x2="785.34" y2="560" stroke="#99CCFF" stroke-width="1" stroke-dasharray="4,3" />
<line x1="817.01" y1="224" x2="817.01" y2="560" stroke="#99CCFF" stroke-width="1" stroke-dasharray="4,3" />
<line x1="848.6800000000001" y1="224" x2="848.6800000000001" y2="560" stroke="#99CCFF" stroke-width="1" stroke-dasharray="4,3" />
<line x1="880.35" y1="224" x2="880.35" y2="560" stroke="#99CCFF" stroke-width="1" stroke-dasharray="4,3" />
<line x1="912.02" y1="224" x2="912.02" y2="560" stroke="#99CCFF" stroke-width="1" stroke-dasharray="4,3" />
<line x1="943.69" y1="224" x2="943.69" y2="560" stroke="#99CCFF" stroke-width="1" stroke-dasharray="4,3" />
<line x1="975.36" y1="224" x2="975.36" y2="560" stroke="#99CCFF" stroke-width="1" stroke-dasharray="4,3" />
<line x1="1007.03" y1="224" x2="1007.03" y2="560" stroke="#99CCFF" stroke-width="1" stroke-dasharray="4,3" />
<line x1="1038.7" y1="224" x2="1038.7" y2="560" stroke="#99CCFF" stroke-width="1" stroke-dasharray="4,3" />
<line x1="1070.37" y1="224" x2="1070.37" y2="560" stroke="#99CCFF" stroke-width="1" stroke-dasharray="4,3" />
<line x1="1102.04" y1="224" x2="1102.04" y2="560" stroke="#99CCFF" stroke-width="1" stroke-dasharray="4,3" />
<line x1="1133.71" y1="224" x2="1133.71" y2="560" stroke="#99CCFF" stroke-width="1" stroke-dasharray="4,3" />
<line x1="1165.38" y1="224" x2="1165.38" y2="560" stroke="#99CCFF" stroke-width="1" stroke-dasharray="4,3" />
<line x1="1197.05" y1="224" x2="1197.05" y2="560" stroke="#99CCFF" stroke-width="1" stroke-dasharray="4,3" />
<line x1="1228.72" y1="224" x2="1228.72" y2="560" stroke="#99CCFF" stroke-width="1" stroke-dasharray="4,3" />
<line x1="1260.3899999999999" y1="224" x2="1260.3899999999999" y2="560" stroke="#99CCFF" stroke-width="1" stroke-dasharray="4,3" />
<line x1="1292.0" y1="280" x2="722.0" y2="280" stroke="#000" stroke-width="1" stroke-dasharray="6,4" />
<line x1="1292.0" y1="336" x2="722.0" y2="336" stroke="#000" stroke-width="1" stroke-dasharray="6,4" />
<line x1="1292.0" y1="392" x2="722.0" y2="392" stroke="#000" stroke-width="1" stroke-dasharray="6,4" />
<line x1="1292.0" y1="448" x2="722.0" y2="448" stroke="#000" stroke-width="1" stroke-dasharray="6,4" />
<line x1="1292.0" y1="504" x2="722.0" y2="504" stroke="#000" stroke-width="1" stroke-dasharray="6,4" />
<line x1="722.0" y1="224.5" x2="1292.0" y2="224.5" stroke="#808080" stroke-width="1" />
<line x1="1292.5" y1="224" x2="1292.5" y2="560" stroke="#000" stroke-width="1" />
<line x1="722.5" y1="224" x2="722.5" y2="560" stroke="#FF9900" stroke-width="1" />
<line x1="722.0" y1="224.78799999999998" x2="728.0" y2="224.78799999999998" stroke="#FF9900" stroke-width="1.2" />
<line x1="722.0" y1="273.1" x2="728.0" y2="273.1" stroke="#FF9900" stroke-width="1.2" />
<line x1="722.0" y1="321.9" x2="728.0" y2="321.9" stroke="#FF9900" stroke-width="1.2" />
<line x1="722.0" y1="370.70000000000005" x2="728.0" y2="370.70000000000005" stroke="#FF9900" stroke-width="1.2" />
<line x1="722.0" y1="419.5" x2="728.0" y2="419.5" stroke="#FF9900" stroke-width="1.2" />
<line x1="722.0" y1="468.3" x2="728.0" y2="468.3" stroke="#FF9900" stroke-width="1.2" />
<line x1="722.0" y1="517.1" x2="728.0" y2="517.1" stroke="#FF9900" stroke-width="1.2" />
<line x1="722.0" y1="565.9" x2="728.0" y2="565.9" stroke="#FF9900" stroke-width="1.2" />
<polyline points="737.8,480.5 769.5,479.6 801.2,474.3 832.8,458.9 864.5,444.4 896.2,447.7 927.9,423.6 959.5,414.4 991.2,404.0 1022.9,401.0 1054.5,353.9 1086.2,341.3 1117.9,330.4 1149.5,318.6 1181.2,271.6 1212.9,267.7 1244.6,244.2" fill="none" stroke="#FF00FF" stroke-width="3" stroke-linejoin="round"/>
<polyline points="1244.6,244.2 1276.2,244.2" fill="none" stroke="#FF0000" stroke-width="3" stroke-linejoin="round"/>
<rect x="733.3" y="476.0" width="9" height="9" fill="#FF00FF"/>
<rect x="765.0" y="475.1" width="9" height="9" fill="#FF00FF"/>
<rect x="796.7" y="469.8" width="9" height="9" fill="#FF00FF"/>
<rect x="828.3" y="454.4" width="9" height="9" fill="#FF00FF"/>
<rect x="860.0" y="439.9" width="9" height="9" fill="#FF00FF"/>
<rect x="891.7" y="443.2" width="9" height="9" fill="#FF00FF"/>
<rect x="923.4" y="419.1" width="9" height="9" fill="#FF00FF"/>
<rect x="955.0" y="409.9" width="9" height="9" fill="#FF00FF"/>
<rect x="986.7" y="399.5" width="9" height="9" fill="#FF00FF"/>
<rect x="1018.4" y="396.5" width="9" height="9" fill="#FF00FF"/>
<rect x="1050.0" y="349.4" width="9" height="9" fill="#FF00FF"/>
<circle cx="1087.2" cy="342.3" r="5.8" fill="#000"/>
<circle cx="1086.2" cy="341.3" r="5.6" fill="#FFFFFF" stroke="#FF00FF" stroke-width="1.2"/>
<rect x="1113.4" y="325.9" width="9" height="9" fill="#FF00FF"/>
<rect x="1145.0" y="314.1" width="9" height="9" fill="#FF00FF"/>
<rect x="1176.7" y="267.1" width="9" height="9" fill="#FF00FF"/>
<circle cx="1213.9" cy="268.7" r="5.8" fill="#000"/>
<circle cx="1212.9" cy="267.7" r="5.6" fill="#FFFFFF" stroke="#FF00FF" stroke-width="1.2"/>
<rect x="1242.1" y="241.7" width="9" height="9" fill="#000"/>
<rect x="1240.1" y="239.7" width="9" height="9" fill="#FF9900" stroke="#FF00FF" stroke-width="0.8"/>
<polygon points="1278.2,238.2 1286.2,246.2 1278.2,254.2 1270.2,246.2" fill="#000"/>
<polygon points="1276.2,236.2 1284.2,244.2 1276.2,252.2 1268.2,244.2" fill="#CCFFFF" stroke="#FF00FF" stroke-width="1.2"/>
<polyline points="737.8,267.2 769.5,279.0 801.2,284.8 832.8,332.1 864.5,326.3 896.2,310.2 927.9,259.9 959.5,280.9 991.2,277.5 1022.9,264.3 1054.5,258.5 1086.2,271.1 1117.9,271.1 1149.5,614.7 1181.2,280.9 1212.9,614.7 1244.6,280.9 1276.2,264.3" fill="none" stroke="#FFFF00" stroke-width="3.5" stroke-linejoin="round"/>
<circle cx="739.1" cy="269.0" r="4.6" fill="#000"/>
<circle cx="737.8" cy="267.2" r="4.4" fill="#969696" stroke="#FFFFFF" stroke-width="1"/>
<circle cx="770.8" cy="280.8" r="4.6" fill="#000"/>
<circle cx="769.5" cy="279.0" r="4.4" fill="#969696" stroke="#FFFFFF" stroke-width="1"/>
<circle cx="802.5" cy="286.6" r="4.6" fill="#000"/>
<circle cx="801.2" cy="284.8" r="4.4" fill="#969696" stroke="#FFFFFF" stroke-width="1"/>
<circle cx="834.1" cy="333.9" r="4.6" fill="#000"/>
<circle cx="832.8" cy="332.1" r="4.4" fill="#969696" stroke="#FFFFFF" stroke-width="1"/>
<circle cx="865.8" cy="328.1" r="4.6" fill="#000"/>
<circle cx="864.5" cy="326.3" r="4.4" fill="#969696" stroke="#FFFFFF" stroke-width="1"/>
<circle cx="897.5" cy="312.0" r="4.6" fill="#000"/>
<circle cx="896.2" cy="310.2" r="4.4" fill="#969696" stroke="#FFFFFF" stroke-width="1"/>
<circle cx="929.2" cy="261.7" r="4.6" fill="#000"/>
<circle cx="927.9" cy="259.9" r="4.4" fill="#969696" stroke="#FFFFFF" stroke-width="1"/>
<circle cx="960.8" cy="282.7" r="4.6" fill="#000"/>
<circle cx="959.5" cy="280.9" r="4.4" fill="#969696" stroke="#FFFFFF" stroke-width="1"/>
<circle cx="992.5" cy="279.3" r="4.6" fill="#000"/>
<circle cx="991.2" cy="277.5" r="4.4" fill="#969696" stroke="#FFFFFF" stroke-width="1"/>
<circle cx="1024.2" cy="266.1" r="4.6" fill="#000"/>
<circle cx="1022.9" cy="264.3" r="4.4" fill="#969696" stroke="#FFFFFF" stroke-width="1"/>
<circle cx="1055.8" cy="260.3" r="4.6" fill="#000"/>
<circle cx="1054.5" cy="258.5" r="4.4" fill="#969696" stroke="#FFFFFF" stroke-width="1"/>
<circle cx="1087.5" cy="272.9" r="4.6" fill="#000"/>
<circle cx="1086.2" cy="271.1" r="4.4" fill="#969696" stroke="#FFFFFF" stroke-width="1"/>
<circle cx="1119.2" cy="272.9" r="4.6" fill="#000"/>
<circle cx="1117.9" cy="271.1" r="4.4" fill="#969696" stroke="#FFFFFF" stroke-width="1"/>
<circle cx="1150.8" cy="616.5" r="4.6" fill="#000"/>
<circle cx="1149.5" cy="614.7" r="4.4" fill="#969696" stroke="#FFFFFF" stroke-width="1"/>
<circle cx="1182.5" cy="282.7" r="4.6" fill="#000"/>
<circle cx="1181.2" cy="280.9" r="4.4" fill="#969696" stroke="#FFFFFF" stroke-width="1"/>
<circle cx="1214.2" cy="616.5" r="4.6" fill="#000"/>
<circle cx="1212.9" cy="614.7" r="4.4" fill="#969696" stroke="#FFFFFF" stroke-width="1"/>
<circle cx="1245.9" cy="282.7" r="4.6" fill="#000"/>
<circle cx="1244.6" cy="280.9" r="4.4" fill="#969696" stroke="#FFFFFF" stroke-width="1"/>
<circle cx="1277.5" cy="266.1" r="4.6" fill="#000"/>
<circle cx="1276.2" cy="264.3" r="4.4" fill="#969696" stroke="#FFFFFF" stroke-width="1"/>
<text x="706" y="230.8" font-size="18" fill="#FF6600" font-family="'Liberation Sans','Noto Sans CJK TC',sans-serif" text-anchor="end" textLength="16" lengthAdjust="spacingAndGlyphs" >40</text>
<text x="706" y="279.6" font-size="18" fill="#FF6600" font-family="'Liberation Sans','Noto Sans CJK TC',sans-serif" text-anchor="end" textLength="16" lengthAdjust="spacingAndGlyphs" >35</text>
<text x="706" y="328.4" font-size="18" fill="#FF6600" font-family="'Liberation Sans','Noto Sans CJK TC',sans-serif" text-anchor="end" textLength="16" lengthAdjust="spacingAndGlyphs" >30</text>
<text x="706" y="377.20000000000005" font-size="18" fill="#FF6600" font-family="'Liberation Sans','Noto Sans CJK TC',sans-serif" text-anchor="end" textLength="16" lengthAdjust="spacingAndGlyphs" >25</text>
<text x="706" y="426.0" font-size="18" fill="#FF6600" font-family="'Liberation Sans','Noto Sans CJK TC',sans-serif" text-anchor="end" textLength="16" lengthAdjust="spacingAndGlyphs" >20</text>
<text x="706" y="474.8" font-size="18" fill="#FF6600" font-family="'Liberation Sans','Noto Sans CJK TC',sans-serif" text-anchor="end" textLength="16" lengthAdjust="spacingAndGlyphs" >15</text>
<text x="706" y="523.6" font-size="18" fill="#FF6600" font-family="'Liberation Sans','Noto Sans CJK TC',sans-serif" text-anchor="end" textLength="16" lengthAdjust="spacingAndGlyphs" >10</text>
<text x="706" y="572.4" font-size="18" fill="#FF6600" font-family="'Liberation Sans','Noto Sans CJK TC',sans-serif" text-anchor="end" textLength="8" lengthAdjust="spacingAndGlyphs" >5</text>
<text x="1305" y="230.5" font-size="18" fill="#FF00FF" font-family="'Noto Sans CJK TC',sans-serif" font-weight="300" textLength="19.5" lengthAdjust="spacingAndGlyphs" >72.</text>
<text x="1305" y="286.5" font-size="18" fill="#FF00FF" font-family="'Noto Sans CJK TC',sans-serif" font-weight="300" textLength="19.5" lengthAdjust="spacingAndGlyphs" >70.</text>
<text x="1305" y="342.5" font-size="18" fill="#FF00FF" font-family="'Noto Sans CJK TC',sans-serif" font-weight="300" textLength="19.5" lengthAdjust="spacingAndGlyphs" >68.</text>
<text x="1305" y="398.5" font-size="18" fill="#FF00FF" font-family="'Noto Sans CJK TC',sans-serif" font-weight="300" textLength="19.5" lengthAdjust="spacingAndGlyphs" >66.</text>
<text x="1305" y="454.5" font-size="18" fill="#FF00FF" font-family="'Noto Sans CJK TC',sans-serif" font-weight="300" textLength="19.5" lengthAdjust="spacingAndGlyphs" >64.</text>
<text x="1305" y="510.5" font-size="18" fill="#FF00FF" font-family="'Noto Sans CJK TC',sans-serif" font-weight="300" textLength="19.5" lengthAdjust="spacingAndGlyphs" >62.</text>
<text x="1305" y="566.5" font-size="18" fill="#FF00FF" font-family="'Noto Sans CJK TC',sans-serif" font-weight="300" textLength="19.5" lengthAdjust="spacingAndGlyphs" >60.</text>
<rect x="800" y="212" width="385" height="33" fill="#000" />
<rect x="797" y="209" width="385" height="33" fill="#0000FF" stroke="#000" stroke-width="1"/>
<text x="815" y="233" font-size="16" fill="#FFFF00" font-family="'Liberation Sans','Noto Sans CJK TC',sans-serif" font-weight="bold" textLength="361" lengthAdjust="spacingAndGlyphs" >-每月「籌碼集中度」(佔股本%)變動趨勢 -</text>
<rect x="724.5" y="496.5" width="133" height="51" fill="#CCCCFF" stroke="#808080" stroke-width="1"/>
<line x1="731" y1="511.5" x2="762" y2="511.5" stroke="#FF00FF" stroke-width="3" />
<rect x="742.0" y="507.0" width="9" height="9" fill="#FF00FF"/>
<text x="765" y="519" font-size="16" fill="#000" font-family="'Liberation Serif','Noto Sans CJK TC',serif" textLength="82" lengthAdjust="spacingAndGlyphs" >大戶籌碼%</text>
<line x1="731" y1="534.5" x2="762" y2="534.5" stroke="#FFFF00" stroke-width="3" />
<circle cx="746.5" cy="534.5" r="4.4" fill="#969696" stroke="#FFFFFF" stroke-width="1"/>
<text x="766" y="543" font-size="16" fill="#000" font-family="'Liberation Serif','Noto Sans CJK TC',serif" textLength="84" lengthAdjust="spacingAndGlyphs" >月收盤股價</text>
</g>
<rect x="1339" y="203" width="1" height="432" fill="#000" />
<rect x="30" y="555" width="649" height="344" fill="#FFFFFF" />
<rect x="89.5" y="576" width="525.9" height="302.5" fill="#C0C0C0" />
<line x1="89.5" y1="576.5" x2="615.4" y2="576.5" stroke="#808080" stroke-width="1" />
<line x1="89.5" y1="878.5" x2="615.4" y2="878.5" stroke="#808080" stroke-width="1" />
<line x1="89.5" y1="576.05" x2="615.4" y2="576.05" stroke="#808080" stroke-width="1" stroke-dasharray="5.5,4" />
<line x1="89.5" y1="606.3" x2="615.4" y2="606.3" stroke="#808080" stroke-width="1" stroke-dasharray="5.5,4" />
<line x1="89.5" y1="636.55" x2="615.4" y2="636.55" stroke="#808080" stroke-width="1" stroke-dasharray="5.5,4" />
<line x1="89.5" y1="666.8" x2="615.4" y2="666.8" stroke="#808080" stroke-width="1" stroke-dasharray="5.5,4" />
<line x1="89.5" y1="697.05" x2="615.4" y2="697.05" stroke="#808080" stroke-width="1" stroke-dasharray="5.5,4" />
<line x1="89.5" y1="757.55" x2="615.4" y2="757.55" stroke="#808080" stroke-width="1" stroke-dasharray="5.5,4" />
<line x1="89.5" y1="787.8" x2="615.4" y2="787.8" stroke="#808080" stroke-width="1" stroke-dasharray="5.5,4" />
<line x1="89.5" y1="818.05" x2="615.4" y2="818.05" stroke="#808080" stroke-width="1" stroke-dasharray="5.5,4" />
<line x1="89.5" y1="848.3" x2="615.4" y2="848.3" stroke="#808080" stroke-width="1" stroke-dasharray="5.5,4" />
<rect x="106.5" y="720.2" width="2.2" height="9.1" fill="#000" />
<rect x="96.5" y="719.2" width="9.6" height="7.6" fill="#00FFFF" stroke="#000" stroke-width="1"/>
<rect x="130.5" y="720.2" width="2.2" height="9.1" fill="#000" />
<rect x="120.5" y="719.2" width="9.6" height="7.6" fill="#00FFFF" stroke="#000" stroke-width="1"/>
<rect x="154.5" y="688.3" width="2.2" height="41.0" fill="#000" />
<rect x="144.5" y="687.3" width="9.6" height="39.5" fill="#00FFFF" stroke="#000" stroke-width="1"/>
<rect x="178.5" y="692.1" width="2.2" height="37.2" fill="#000" />
<rect x="168.5" y="691.1" width="9.6" height="35.7" fill="#00FFFF" stroke="#000" stroke-width="1"/>
<rect x="202.5" y="706.8" width="2.2" height="22.5" fill="#000" />
<rect x="192.5" y="705.8" width="9.6" height="21.0" fill="#00FFFF" stroke="#000" stroke-width="1"/>
<rect x="217" y="728.8" width="11.7" height="15.1" fill="#000" />
<rect x="216.5" y="727.8" width="9.6" height="12.3" fill="#00FFFF" stroke="#000" stroke-width="1"/>
<rect x="241" y="728.8" width="11.7" height="7.8" fill="#000" />
<rect x="240.5" y="727.8" width="9.6" height="5.0" fill="#00FFFF" stroke="#000" stroke-width="1"/>
<rect x="265" y="728.8" width="11.7" height="7.8" fill="#000" />
<rect x="264.5" y="727.8" width="9.6" height="5.0" fill="#00FFFF" stroke="#000" stroke-width="1"/>
<rect x="289" y="728.8" width="11.7" height="124.3" fill="#000" />
<rect x="288.5" y="727.8" width="9.6" height="121.5" fill="#00FFFF" stroke="#000" stroke-width="1"/>
<rect x="322.5" y="652.0" width="2.2" height="77.3" fill="#000" />
<rect x="312.5" y="651.0" width="9.6" height="75.8" fill="#00FFFF" stroke="#000" stroke-width="1"/>
<rect x="336" y="728.8" width="11.7" height="36.3" fill="#000" />
<rect x="335.5" y="727.8" width="9.6" height="33.5" fill="#00FFFF" stroke="#000" stroke-width="1"/>
<rect x="360" y="728.8" width="11.7" height="18.7" fill="#000" />
<rect x="359.5" y="727.8" width="9.6" height="15.899999999999999" fill="#00FFFF" stroke="#000" stroke-width="1"/>
<rect x="393.5" y="616.3" width="2.2" height="113.0" fill="#000" />
<rect x="383.5" y="615.3" width="9.6" height="111.5" fill="#00FFFF" stroke="#000" stroke-width="1"/>
<rect x="417.5" y="706.8" width="2.2" height="22.5" fill="#000" />
<rect x="407.5" y="705.8" width="9.6" height="21.0" fill="#00FFFF" stroke="#000" stroke-width="1"/>
<rect x="441.5" y="697.3" width="2.2" height="32.0" fill="#000" />
<rect x="431.5" y="696.3" width="9.6" height="30.5" fill="#00FFFF" stroke="#000" stroke-width="1"/>
<rect x="465.5" y="697.3" width="2.2" height="32.0" fill="#000" />
<rect x="455.5" y="696.3" width="9.6" height="30.5" fill="#00FFFF" stroke="#000" stroke-width="1"/>
<rect x="480" y="728.8" width="11.7" height="7.8" fill="#000" />
<rect x="479.5" y="727.8" width="9.6" height="5.0" fill="#00FFFF" stroke="#000" stroke-width="1"/>
<rect x="504" y="728.8" width="11.7" height="7.8" fill="#000" />
<rect x="503.5" y="727.8" width="9.6" height="5.0" fill="#00FFFF" stroke="#000" stroke-width="1"/>
<rect x="528" y="728.8" width="11.7" height="110.1" fill="#000" />
<rect x="527.5" y="727.8" width="9.6" height="107.3" fill="#00FFFF" stroke="#000" stroke-width="1"/>
<rect x="552" y="728.8" width="11.7" height="110.1" fill="#000" />
<rect x="551.5" y="727.8" width="9.6" height="107.3" fill="#00FFFF" stroke="#000" stroke-width="1"/>
<rect x="576" y="728.8" width="11.7" height="4.2" fill="#000" />
<rect x="575.5" y="727.8" width="9.6" height="1.4" fill="#00FFFF" stroke="#000" stroke-width="1"/>
<rect x="599" y="728.8" width="11.7" height="6.6" fill="#000" />
<rect x="598.5" y="727.8" width="9.6" height="3.8" fill="#00FFFF" stroke="#000" stroke-width="1"/>
<line x1="89.5" y1="727.3" x2="615.4" y2="727.3" stroke="#000" stroke-width="1.4" />
<line x1="113.40454545454546" y1="722.3" x2="113.40454545454546" y2="727.3" stroke="#000" stroke-width="1" />
<line x1="137.3090909090909" y1="722.3" x2="137.3090909090909" y2="727.3" stroke="#000" stroke-width="1" />
<line x1="161.21363636363634" y1="722.3" x2="161.21363636363634" y2="727.3" stroke="#000" stroke-width="1" />
<line x1="185.11818181818182" y1="722.3" x2="185.11818181818182" y2="727.3" stroke="#000" stroke-width="1" />
<line x1="209.02272727272725" y1="722.3" x2="209.02272727272725" y2="727.3" stroke="#000" stroke-width="1" />
<line x1="232.9272727272727" y1="722.3" x2="232.9272727272727" y2="727.3" stroke="#000" stroke-width="1" />
<line x1="256.83181818181816" y1="722.3" x2="256.83181818181816" y2="727.3" stroke="#000" stroke-width="1" />
<line x1="280.73636363636365" y1="722.3" x2="280.73636363636365" y2="727.3" stroke="#000" stroke-width="1" />
<line x1="304.6409090909091" y1="722.3" x2="304.6409090909091" y2="727.3" stroke="#000" stroke-width="1" />
<line x1="328.5454545454545" y1="722.3" x2="328.5454545454545" y2="727.3" stroke="#000" stroke-width="1" />
<line x1="352.45" y1="722.3" x2="352.45" y2="727.3" stroke="#000" stroke-width="1" />
<line x1="376.3545454545454" y1="722.3" x2="376.3545454545454" y2="727.3" stroke="#000" stroke-width="1" />
<line x1="400.2590909090909" y1="722.3" x2="400.2590909090909" y2="727.3" stroke="#000" stroke-width="1" />
<line x1="424.16363636363633" y1="722.3" x2="424.16363636363633" y2="727.3" stroke="#000" stroke-width="1" />
<line x1="448.0681818181818" y1="722.3" x2="448.0681818181818" y2="727.3" stroke="#000" stroke-width="1" />
<line x1="471.97272727272724" y1="722.3" x2="471.97272727272724" y2="727.3" stroke="#000" stroke-width="1" />
<line x1="495.87727272727267" y1="722.3" x2="495.87727272727267" y2="727.3" stroke="#000" stroke-width="1" />
<line x1="519.7818181818182" y1="722.3" x2="519.7818181818182" y2="727.3" stroke="#000" stroke-width="1" />
<line x1="543.6863636363636" y1="722.3" x2="543.6863636363636" y2="727.3" stroke="#000" stroke-width="1" />
<line x1="567.590909090909" y1="722.3" x2="567.590909090909" y2="727.3" stroke="#000" stroke-width="1" />
<line x1="591.4954545454545" y1="722.3" x2="591.4954545454545" y2="727.3" stroke="#000" stroke-width="1" />
<line x1="89.5" y1="576" x2="89.5" y2="879" stroke="#000" stroke-width="1.2" />
<line x1="615.4" y1="576" x2="615.4" y2="879" stroke="#000" stroke-width="1.2" />
<line x1="89.5" y1="877.9927" x2="95.5" y2="877.9927" stroke="#000" stroke-width="1.2" />
<line x1="89.5" y1="840.74" x2="95.5" y2="840.74" stroke="#000" stroke-width="1.2" />
<line x1="89.5" y1="802.9200000000001" x2="95.5" y2="802.9200000000001" stroke="#000" stroke-width="1.2" />
<line x1="89.5" y1="765.1" x2="95.5" y2="765.1" stroke="#000" stroke-width="1.2" />
<line x1="89.5" y1="727.28" x2="95.5" y2="727.28" stroke="#000" stroke-width="1.2" />
<line x1="89.5" y1="689.46" x2="95.5" y2="689.46" stroke="#000" stroke-width="1.2" />
<line x1="89.5" y1="651.64" x2="95.5" y2="651.64" stroke="#000" stroke-width="1.2" />
<line x1="89.5" y1="613.82" x2="95.5" y2="613.82" stroke="#000" stroke-width="1.2" />
<line x1="89.5" y1="576.5673" x2="95.5" y2="576.5673" stroke="#000" stroke-width="1.2" />
<line x1="609.4" y1="576.655" x2="615.4" y2="576.655" stroke="#000" stroke-width="1.2" />
<line x1="609.4" y1="606.3" x2="615.4" y2="606.3" stroke="#000" stroke-width="1.2" />
<line x1="609.4" y1="636.55" x2="615.4" y2="636.55" stroke="#000" stroke-width="1.2" />
<line x1="609.4" y1="666.8" x2="615.4" y2="666.8" stroke="#000" stroke-width="1.2" />
<line x1="609.4" y1="697.05" x2="615.4" y2="697.05" stroke="#000" stroke-width="1.2" />
<line x1="609.4" y1="757.55" x2="615.4" y2="757.55" stroke="#000" stroke-width="1.2" />
<line x1="609.4" y1="787.8" x2="615.4" y2="787.8" stroke="#000" stroke-width="1.2" />
<line x1="609.4" y1="818.05" x2="615.4" y2="818.05" stroke="#000" stroke-width="1.2" />
<line x1="609.4" y1="848.3" x2="615.4" y2="848.3" stroke="#000" stroke-width="1.2" />
<line x1="609.4" y1="877.9449999999999" x2="615.4" y2="877.9449999999999" stroke="#000" stroke-width="1.2" />
<text x="117.9" y="750" font-size="17" font-weight="300" font-family="'Noto Sans CJK TC',sans-serif" text-anchor="end" textLength="28.0" lengthAdjust="spacingAndGlyphs" transform="rotate(-45 117.9 750)">9/29</text>
<text x="165.7" y="750" font-size="17" font-weight="300" font-family="'Noto Sans CJK TC',sans-serif" text-anchor="end" textLength="28.0" lengthAdjust="spacingAndGlyphs" transform="rotate(-45 165.7 750)">10/5</text>
<text x="213.5" y="750" font-size="17" font-weight="300" font-family="'Noto Sans CJK TC',sans-serif" text-anchor="end" textLength="28.0" lengthAdjust="spacingAndGlyphs" transform="rotate(-45 213.5 750)">10/7</text>
<text x="261.3" y="750" font-size="17" font-weight="300" font-family="'Noto Sans CJK TC',sans-serif" text-anchor="end" textLength="35.0" lengthAdjust="spacingAndGlyphs" transform="rotate(-45 261.3 750)">10/12</text>
<text x="309.1" y="750" font-size="17" font-weight="300" font-family="'Noto Sans CJK TC',sans-serif" text-anchor="end" textLength="35.0" lengthAdjust="spacingAndGlyphs" transform="rotate(-45 309.1 750)">10/14</text>
<text x="356.9" y="750" font-size="17" font-weight="300" font-family="'Noto Sans CJK TC',sans-serif" text-anchor="end" textLength="35.0" lengthAdjust="spacingAndGlyphs" transform="rotate(-45 356.9 750)">10/16</text>
<text x="404.7" y="750" font-size="17" font-weight="300" font-family="'Noto Sans CJK TC',sans-serif" text-anchor="end" textLength="35.0" lengthAdjust="spacingAndGlyphs" transform="rotate(-45 404.7 750)">10/20</text>
<text x="452.5" y="750" font-size="17" font-weight="300" font-family="'Noto Sans CJK TC',sans-serif" text-anchor="end" textLength="35.0" lengthAdjust="spacingAndGlyphs" transform="rotate(-45 452.5 750)">10/22</text>
<text x="500.3" y="750" font-size="17" font-weight="300" font-family="'Noto Sans CJK TC',sans-serif" text-anchor="end" textLength="35.0" lengthAdjust="spacingAndGlyphs" transform="rotate(-45 500.3 750)">10/26</text>
<text x="548.1" y="750" font-size="17" font-weight="300" font-family="'Noto Sans CJK TC',sans-serif" text-anchor="end" textLength="35.0" lengthAdjust="spacingAndGlyphs" transform="rotate(-45 548.1 750)">10/28</text>
<text x="595.9" y="750" font-size="17" font-weight="300" font-family="'Noto Sans CJK TC',sans-serif" text-anchor="end" textLength="35.0" lengthAdjust="spacingAndGlyphs" transform="rotate(-45 595.9 750)">10/30</text>
<polyline points="101.5,768.9 125.4,754.5 149.3,728.2 173.2,703.5 197.1,673.6 221.0,675.5 244.9,636.9 268.8,649.2 292.7,643.5 316.6,638.4 340.5,635.0 364.4,648.4 388.3,598.7 412.2,589.2 436.1,594.9 460.0,610.2 483.9,621.8 507.8,615.5 531.7,601.3 555.6,640.9 579.5,675.5 603.4,715.0" fill="none" stroke="#FFFF00" stroke-width="3.5" stroke-linejoin="round"/>
<circle cx="103.3" cy="770.7" r="5.2" fill="#000"/>
<circle cx="101.5" cy="768.9" r="5.2" fill="#FFFFFF" stroke="#FFCC00" stroke-width="1.2"/>
<circle cx="127.2" cy="756.3" r="5.2" fill="#000"/>
<circle cx="125.4" cy="754.5" r="5.2" fill="#FFFFFF" stroke="#FFCC00" stroke-width="1.2"/>
<circle cx="151.1" cy="730.0" r="5.2" fill="#000"/>
<circle cx="149.3" cy="728.2" r="5.2" fill="#FFFFFF" stroke="#FFCC00" stroke-width="1.2"/>
<circle cx="175.0" cy="705.3" r="5.2" fill="#000"/>
<circle cx="173.2" cy="703.5" r="5.2" fill="#FFFFFF" stroke="#FFCC00" stroke-width="1.2"/>
<circle cx="198.9" cy="675.4" r="5.2" fill="#000"/>
<circle cx="197.1" cy="673.6" r="5.2" fill="#FFFFFF" stroke="#FFCC00" stroke-width="1.2"/>
<circle cx="222.8" cy="677.3" r="5.2" fill="#000"/>
<circle cx="221.0" cy="675.5" r="5.2" fill="#FFFFFF" stroke="#FFCC00" stroke-width="1.2"/>
<circle cx="246.7" cy="638.7" r="5.2" fill="#000"/>
<circle cx="244.9" cy="636.9" r="5.2" fill="#FFFFFF" stroke="#FFCC00" stroke-width="1.2"/>
<circle cx="270.6" cy="651.0" r="5.2" fill="#000"/>
<circle cx="268.8" cy="649.2" r="5.2" fill="#FFFFFF" stroke="#FFCC00" stroke-width="1.2"/>
<circle cx="294.5" cy="645.3" r="5.2" fill="#000"/>
<circle cx="292.7" cy="643.5" r="5.2" fill="#FFFFFF" stroke="#FFCC00" stroke-width="1.2"/>
<circle cx="318.4" cy="640.2" r="5.2" fill="#000"/>
<circle cx="316.6" cy="638.4" r="5.2" fill="#FFFFFF" stroke="#FFCC00" stroke-width="1.2"/>
<circle cx="342.3" cy="636.8" r="5.2" fill="#000"/>
<circle cx="340.5" cy="635.0" r="5.2" fill="#FFFFFF" stroke="#FFCC00" stroke-width="1.2"/>
<circle cx="366.2" cy="650.2" r="5.2" fill="#000"/>
<circle cx="364.4" cy="648.4" r="5.2" fill="#FFFFFF" stroke="#FFCC00" stroke-width="1.2"/>
<circle cx="390.1" cy="600.5" r="5.2" fill="#000"/>
<circle cx="388.3" cy="598.7" r="5.2" fill="#FFFFFF" stroke="#FFCC00" stroke-width="1.2"/>
<circle cx="414.0" cy="591.0" r="5.2" fill="#000"/>
<circle cx="412.2" cy="589.2" r="5.2" fill="#FFFFFF" stroke="#FFCC00" stroke-width="1.2"/>
<circle cx="437.9" cy="596.7" r="5.2" fill="#000"/>
<circle cx="436.1" cy="594.9" r="5.2" fill="#FFFFFF" stroke="#FFCC00" stroke-width="1.2"/>
<circle cx="461.8" cy="612.0" r="5.2" fill="#000"/>
<circle cx="460.0" cy="610.2" r="5.2" fill="#FFFFFF" stroke="#FFCC00" stroke-width="1.2"/>
<circle cx="485.7" cy="623.6" r="5.2" fill="#000"/>
<circle cx="483.9" cy="621.8" r="5.2" fill="#FFFFFF" stroke="#FFCC00" stroke-width="1.2"/>
<circle cx="509.6" cy="617.3" r="5.2" fill="#000"/>
<circle cx="507.8" cy="615.5" r="5.2" fill="#FFFFFF" stroke="#FFCC00" stroke-width="1.2"/>
<circle cx="533.5" cy="603.1" r="5.2" fill="#000"/>
<circle cx="531.7" cy="601.3" r="5.2" fill="#FFFFFF" stroke="#FFCC00" stroke-width="1.2"/>
<circle cx="557.4" cy="642.7" r="5.2" fill="#000"/>
<circle cx="555.6" cy="640.9" r="5.2" fill="#FFFFFF" stroke="#FFCC00" stroke-width="1.2"/>
<circle cx="581.3" cy="677.3" r="5.2" fill="#000"/>
<circle cx="579.5" cy="675.5" r="5.2" fill="#FFFFFF" stroke="#FFCC00" stroke-width="1.2"/>
<circle cx="605.2" cy="716.8" r="5.2" fill="#000"/>
<circle cx="603.4" cy="715.0" r="5.2" fill="#FFFFFF" stroke="#FFCC00" stroke-width="1.2"/>
<rect x="213" y="565" width="290" height="31" fill="#000" />
<rect x="210" y="562" width="290" height="31" fill="#FFFF99" stroke="#000" stroke-width="1"/>
<text x="497" y="585" font-size="16" fill="#0000FF" font-family="'Liberation Serif','Noto Sans CJK TC',serif" text-anchor="end" >類股籌碼週走勢</text>
<rect x="116.5" y="561.5" width="342.5" height="43.5" fill="#969696" stroke="#000" stroke-width="1"/>
<rect x="128.5" y="578.5" width="31" height="11.5" fill="#00FFFF" stroke="#000" stroke-width="1"/>
<text x="165" y="591" font-size="16" fill="#F4F4F4" font-family="'Liberation Serif','Noto Sans CJK TC',serif" textLength="72" lengthAdjust="spacingAndGlyphs" >類股籌碼</text>
<line x1="258" y1="583.5" x2="292" y2="583.5" stroke="#FFFF00" stroke-width="3" />
<circle cx="275.0" cy="583.5" r="5.2" fill="#FFFFFF" stroke="#FFCC00" stroke-width="1.2"/>
<text x="297" y="591" font-size="16" fill="#F4F4F4" font-family="'Liberation Serif','Noto Sans CJK TC',serif" textLength="152" lengthAdjust="spacingAndGlyphs" >電子上游-被動元件</text>
<text x="40" y="582.8" font-size="18" fill="#0000FF" font-family="'Liberation Serif','Noto Sans CJK TC',serif" font-weight="bold" textLength="27" lengthAdjust="spacingAndGlyphs" >134.</text>
<text x="40" y="620.62" font-size="18" fill="#0000FF" font-family="'Liberation Serif','Noto Sans CJK TC',serif" font-weight="bold" textLength="27" lengthAdjust="spacingAndGlyphs" >132.</text>
<text x="40" y="658.4399999999999" font-size="18" fill="#0000FF" font-family="'Liberation Serif','Noto Sans CJK TC',serif" font-weight="bold" textLength="27" lengthAdjust="spacingAndGlyphs" >130.</text>
<text x="40" y="696.26" font-size="18" fill="#0000FF" font-family="'Liberation Serif','Noto Sans CJK TC',serif" font-weight="bold" textLength="27" lengthAdjust="spacingAndGlyphs" >128.</text>
<text x="40" y="734.0799999999999" font-size="18" fill="#0000FF" font-family="'Liberation Serif','Noto Sans CJK TC',serif" font-weight="bold" textLength="27" lengthAdjust="spacingAndGlyphs" >126.</text>
<text x="40" y="771.9" font-size="18" fill="#0000FF" font-family="'Liberation Serif','Noto Sans CJK TC',serif" font-weight="bold" textLength="27" lengthAdjust="spacingAndGlyphs" >124.</text>
<text x="40" y="809.72" font-size="18" fill="#0000FF" font-family="'Liberation Serif','Noto Sans CJK TC',serif" font-weight="bold" textLength="27" lengthAdjust="spacingAndGlyphs" >122.</text>
<text x="40" y="847.54" font-size="18" fill="#0000FF" font-family="'Liberation Serif','Noto Sans CJK TC',serif" font-weight="bold" textLength="27" lengthAdjust="spacingAndGlyphs" >120.</text>
<text x="40" y="885.3599999999999" font-size="18" fill="#0000FF" font-family="'Liberation Serif','Noto Sans CJK TC',serif" font-weight="bold" textLength="27" lengthAdjust="spacingAndGlyphs" >118.</text>
<text x="628" y="582.55" font-size="17" fill="#000" font-family="'Noto Sans CJK TC',sans-serif" font-weight="300" textLength="34" lengthAdjust="spacingAndGlyphs" >25.00</text>
<text x="628" y="612.8" font-size="17" fill="#000" font-family="'Noto Sans CJK TC',sans-serif" font-weight="300" textLength="34" lengthAdjust="spacingAndGlyphs" >20.00</text>
<text x="628" y="643.05" font-size="17" fill="#000" font-family="'Noto Sans CJK TC',sans-serif" font-weight="300" textLength="34" lengthAdjust="spacingAndGlyphs" >15.00</text>
<text x="628" y="673.3" font-size="17" fill="#000" font-family="'Noto Sans CJK TC',sans-serif" font-weight="300" textLength="34" lengthAdjust="spacingAndGlyphs" >10.00</text>
<text x="628" y="703.55" font-size="17" fill="#000" font-family="'Noto Sans CJK TC',sans-serif" font-weight="300" textLength="27" lengthAdjust="spacingAndGlyphs" >5.00</text>
<text x="628" y="733.8" font-size="17" fill="#000" font-family="'Noto Sans CJK TC',sans-serif" font-weight="300" textLength="27" lengthAdjust="spacingAndGlyphs" >0.00</text>
<text x="629" y="764.05" font-size="17" fill="#000" font-family="'Noto Sans CJK TC',sans-serif" font-weight="300" textLength="34" lengthAdjust="spacingAndGlyphs" >-5.00</text>
<text x="629" y="794.3" font-size="17" fill="#000" font-family="'Noto Sans CJK TC',sans-serif" font-weight="300" textLength="36.5" lengthAdjust="spacingAndGlyphs" >-10.00</text>
<text x="629" y="824.55" font-size="17" fill="#000" font-family="'Noto Sans CJK TC',sans-serif" font-weight="300" textLength="36.5" lengthAdjust="spacingAndGlyphs" >-15.00</text>
<text x="629" y="854.8" font-size="17" fill="#000" font-family="'Noto Sans CJK TC',sans-serif" font-weight="300" textLength="36.5" lengthAdjust="spacingAndGlyphs" >-20.00</text>
<text x="629" y="885.05" font-size="17" fill="#000" font-family="'Noto Sans CJK TC',sans-serif" font-weight="300" textLength="36.5" lengthAdjust="spacingAndGlyphs" >-25.00</text>
<rect x="30" y="555" width="1" height="344" fill="#000" />
<rect x="30" y="555" width="1309" height="1" fill="#000" />
<rect x="30" y="898" width="1308" height="1" fill="#000" />
<rect x="678" y="555" width="1" height="344" fill="#000" />
<rect x="679" y="556" width="658" height="342" fill="#FFFFFF" />
<rect x="721" y="634.5" width="570" height="244" fill="#C0C0C0" />
<line x1="752.27" y1="634.5" x2="752.27" y2="878.5" stroke="#99CCFF" stroke-width="1" stroke-dasharray="4,3" />
<line x1="752.27" y1="634.5" x2="752.27" y2="640" stroke="#000" stroke-width="1" />
<line x1="783.94" y1="634.5" x2="783.94" y2="878.5" stroke="#99CCFF" stroke-width="1" stroke-dasharray="4,3" />
<line x1="783.94" y1="634.5" x2="783.94" y2="640" stroke="#000" stroke-width="1" />
<line x1="815.61" y1="634.5" x2="815.61" y2="878.5" stroke="#99CCFF" stroke-width="1" stroke-dasharray="4,3" />
<line x1="815.61" y1="634.5" x2="815.61" y2="640" stroke="#000" stroke-width="1" />
<line x1="847.28" y1="634.5" x2="847.28" y2="878.5" stroke="#99CCFF" stroke-width="1" stroke-dasharray="4,3" />
<line x1="847.28" y1="634.5" x2="847.28" y2="640" stroke="#000" stroke-width="1" />
<line x1="878.95" y1="634.5" x2="878.95" y2="878.5" stroke="#99CCFF" stroke-width="1" stroke-dasharray="4,3" />
<line x1="878.95" y1="634.5" x2="878.95" y2="640" stroke="#000" stroke-width="1" />
<line x1="910.62" y1="634.5" x2="910.62" y2="878.5" stroke="#99CCFF" stroke-width="1" stroke-dasharray="4,3" />
<line x1="910.62" y1="634.5" x2="910.62" y2="640" stroke="#000" stroke-width="1" />
<line x1="942.29" y1="634.5" x2="942.29" y2="878.5" stroke="#99CCFF" stroke-width="1" stroke-dasharray="4,3" />
<line x1="942.29" y1="634.5" x2="942.29" y2="640" stroke="#000" stroke-width="1" />
<line x1="973.96" y1="634.5" x2="973.96" y2="878.5" stroke="#99CCFF" stroke-width="1" stroke-dasharray="4,3" />
<line x1="973.96" y1="634.5" x2="973.96" y2="640" stroke="#000" stroke-width="1" />
<line x1="1005.6300000000001" y1="634.5" x2="1005.6300000000001" y2="878.5" stroke="#99CCFF" stroke-width="1" stroke-dasharray="4,3" />
<line x1="1005.6300000000001" y1="634.5" x2="1005.6300000000001" y2="640" stroke="#000" stroke-width="1" />
<line x1="1037.3000000000002" y1="634.5" x2="1037.3000000000002" y2="878.5" stroke="#99CCFF" stroke-width="1" stroke-dasharray="4,3" />
<line x1="1037.3000000000002" y1="634.5" x2="1037.3000000000002" y2="640" stroke="#000" stroke-width="1" />
<line x1="1068.97" y1="634.5" x2="1068.97" y2="878.5" stroke="#99CCFF" stroke-width="1" stroke-dasharray="4,3" />
<line x1="1068.97" y1="634.5" x2="1068.97" y2="640" stroke="#000" stroke-width="1" />
<line x1="1100.64" y1="634.5" x2="1100.64" y2="878.5" stroke="#99CCFF" stroke-width="1" stroke-dasharray="4,3" />
<line x1="1100.64" y1="634.5" x2="1100.64" y2="640" stroke="#000" stroke-width="1" />
<line x1="1132.31" y1="634.5" x2="1132.31" y2="878.5" stroke="#99CCFF" stroke-width="1" stroke-dasharray="4,3" />
<line x1="1132.31" y1="634.5" x2="1132.31" y2="640" stroke="#000" stroke-width="1" />
<line x1="1163.98" y1="634.5" x2="1163.98" y2="878.5" stroke="#99CCFF" stroke-width="1" stroke-dasharray="4,3" />
<line x1="1163.98" y1="634.5" x2="1163.98" y2="640" stroke="#000" stroke-width="1" />
<line x1="1195.65" y1="634.5" x2="1195.65" y2="878.5" stroke="#99CCFF" stroke-width="1" stroke-dasharray="4,3" />
<line x1="1195.65" y1="634.5" x2="1195.65" y2="640" stroke="#000" stroke-width="1" />
<line x1="1227.3200000000002" y1="634.5" x2="1227.3200000000002" y2="878.5" stroke="#99CCFF" stroke-width="1" stroke-dasharray="4,3" />
<line x1="1227.3200000000002" y1="634.5" x2="1227.3200000000002" y2="640" stroke="#000" stroke-width="1" />
<line x1="1258.99" y1="634.5" x2="1258.99" y2="878.5" stroke="#99CCFF" stroke-width="1" stroke-dasharray="4,3" />
<line x1="1258.99" y1="634.5" x2="1258.99" y2="640" stroke="#000" stroke-width="1" />
<line x1="1291.0" y1="675.16" x2="720.6" y2="675.16" stroke="#000" stroke-width="1" stroke-dasharray="6,4" />
<line x1="1291.0" y1="715.8199999999999" x2="720.6" y2="715.8199999999999" stroke="#000" stroke-width="1" stroke-dasharray="6,4" />
<line x1="1291.0" y1="756.48" x2="720.6" y2="756.48" stroke="#000" stroke-width="1" stroke-dasharray="6,4" />
<line x1="1291.0" y1="797.14" x2="720.6" y2="797.14" stroke="#000" stroke-width="1" stroke-dasharray="6,4" />
<line x1="1291.0" y1="837.8" x2="720.6" y2="837.8" stroke="#000" stroke-width="1" stroke-dasharray="6,4" />
<line x1="721" y1="634.5" x2="1291.0" y2="634.5" stroke="#000" stroke-width="1" />
<line x1="1291.5" y1="634.5" x2="1291.5" y2="878.5" stroke="#000" stroke-width="1" />
<line x1="720.6" y1="878.5" x2="1291.0" y2="878.5" stroke="#808080" stroke-width="1" />
<line x1="721.5" y1="634.5" x2="721.5" y2="878.5" stroke="#FF9900" stroke-width="1" />
<line x1="721" y1="634.805" x2="727" y2="634.805" stroke="#FF9900" stroke-width="1.2" />
<line x1="721" y1="665.0" x2="727" y2="665.0" stroke="#FF9900" stroke-width="1.2" />
<line x1="721" y1="695.5" x2="727" y2="695.5" stroke="#FF9900" stroke-width="1.2" />
<line x1="721" y1="726.0" x2="727" y2="726.0" stroke="#FF9900" stroke-width="1.2" />
<line x1="721" y1="756.5" x2="727" y2="756.5" stroke="#FF9900" stroke-width="1.2" />
<line x1="721" y1="787.0" x2="727" y2="787.0" stroke="#FF9900" stroke-width="1.2" />
<line x1="721" y1="817.5" x2="727" y2="817.5" stroke="#FF9900" stroke-width="1.2" />
<line x1="721" y1="848.0" x2="727" y2="848.0" stroke="#FF9900" stroke-width="1.2" />
<line x1="721" y1="878.1949999999999" x2="727" y2="878.1949999999999" stroke="#FF9900" stroke-width="1.2" />
<polyline points="736.4,794.7 768.1,797.1 799.8,802.0 831.4,790.8 863.1,779.5 894.8,780.5 926.5,763.2 958.1,765.8 989.8,766.2 1021.5,763.2 1053.1,729.0 1084.8,722.1 1116.5,732.9 1148.1,722.5 1179.8,683.3 1211.5,675.6 1243.2,656.3" fill="none" stroke="#000080" stroke-width="3" stroke-linejoin="round"/>
<polyline points="1243.2,656.3 1274.8,653.8" fill="none" stroke="#0000FF" stroke-width="3" stroke-linejoin="round"/>
<polygon points="736.4,789.2 741.9,794.7 736.4,800.2 730.9,794.7" fill="#000080"/>
<polygon points="768.1,791.6 773.6,797.1 768.1,802.6 762.6,797.1" fill="#000080"/>
<polygon points="799.8,796.5 805.3,802.0 799.8,807.5 794.3,802.0" fill="#000080"/>
<polygon points="831.4,785.3 836.9,790.8 831.4,796.3 825.9,790.8" fill="#000080"/>
<polygon points="863.1,774.0 868.6,779.5 863.1,785.0 857.6,779.5" fill="#000080"/>
<polygon points="894.8,775.0 900.3,780.5 894.8,786.0 889.3,780.5" fill="#000080"/>
<polygon points="926.5,757.7 932.0,763.2 926.5,768.7 921.0,763.2" fill="#000080"/>
<polygon points="958.1,760.3 963.6,765.8 958.1,771.3 952.6,765.8" fill="#000080"/>
<polygon points="989.8,760.7 995.3,766.2 989.8,771.7 984.3,766.2" fill="#000080"/>
<polygon points="1021.5,757.7 1027.0,763.2 1021.5,768.7 1016.0,763.2" fill="#000080"/>
<polygon points="1053.1,723.5 1058.6,729.0 1053.1,734.5 1047.6,729.0" fill="#000080"/>
<circle cx="1085.8" cy="723.1" r="5.8" fill="#000"/>
<circle cx="1084.8" cy="722.1" r="5.6" fill="#FFFFFF" stroke="#000080" stroke-width="1.2"/>
<polygon points="1116.5,727.4 1122.0,732.9 1116.5,738.4 1111.0,732.9" fill="#000080"/>
<polygon points="1148.1,717.0 1153.6,722.5 1148.1,728.0 1142.6,722.5" fill="#000080"/>
<polygon points="1179.8,677.8 1185.3,683.3 1179.8,688.8 1174.3,683.3" fill="#000080"/>
<circle cx="1212.5" cy="676.6" r="5.8" fill="#000"/>
<circle cx="1211.5" cy="675.6" r="5.6" fill="#FFFFFF" stroke="#000080" stroke-width="1.2"/>
<rect x="1240.7" y="653.8" width="9" height="9" fill="#000"/>
<rect x="1238.7" y="651.8" width="9" height="9" fill="#00FFFF" stroke="#000" stroke-width="1"/>
<polygon points="1276.8,647.8 1284.8,655.8 1276.8,663.8 1268.8,655.8" fill="#000"/>
<polygon points="1274.8,645.8 1282.8,653.8 1274.8,661.8 1266.8,653.8" fill="#CCFFFF" stroke="#00FFFF" stroke-width="1"/>
<polyline points="736.4,661.3 768.1,668.7 799.8,672.3 831.4,701.9 863.1,698.2 894.8,688.2 926.5,656.8 958.1,669.9 989.8,667.7 1021.5,659.5 1053.1,655.9 1084.8,663.8 1116.5,663.8 1148.1,878.5 1179.8,669.9 1211.5,878.5 1243.2,669.9 1274.8,659.5" fill="none" stroke="#FFFF00" stroke-width="3.5" stroke-linejoin="round"/>
<circle cx="737.7" cy="663.1" r="4.6" fill="#000"/>
<circle cx="736.4" cy="661.3" r="4.4" fill="#969696" stroke="#FFFFFF" stroke-width="1"/>
<circle cx="769.4" cy="670.5" r="4.6" fill="#000"/>
<circle cx="768.1" cy="668.7" r="4.4" fill="#969696" stroke="#FFFFFF" stroke-width="1"/>
<circle cx="801.1" cy="674.1" r="4.6" fill="#000"/>
<circle cx="799.8" cy="672.3" r="4.4" fill="#969696" stroke="#FFFFFF" stroke-width="1"/>
<circle cx="832.7" cy="703.7" r="4.6" fill="#000"/>
<circle cx="831.4" cy="701.9" r="4.4" fill="#969696" stroke="#FFFFFF" stroke-width="1"/>
<circle cx="864.4" cy="700.0" r="4.6" fill="#000"/>
<circle cx="863.1" cy="698.2" r="4.4" fill="#969696" stroke="#FFFFFF" stroke-width="1"/>
<circle cx="896.1" cy="690.0" r="4.6" fill="#000"/>
<circle cx="894.8" cy="688.2" r="4.4" fill="#969696" stroke="#FFFFFF" stroke-width="1"/>
<circle cx="927.8" cy="658.6" r="4.6" fill="#000"/>
<circle cx="926.5" cy="656.8" r="4.4" fill="#969696" stroke="#FFFFFF" stroke-width="1"/>
<circle cx="959.4" cy="671.7" r="4.6" fill="#000"/>
<circle cx="958.1" cy="669.9" r="4.4" fill="#969696" stroke="#FFFFFF" stroke-width="1"/>
<circle cx="991.1" cy="669.5" r="4.6" fill="#000"/>
<circle cx="989.8" cy="667.7" r="4.4" fill="#969696" stroke="#FFFFFF" stroke-width="1"/>
<circle cx="1022.8" cy="661.3" r="4.6" fill="#000"/>
<circle cx="1021.5" cy="659.5" r="4.4" fill="#969696" stroke="#FFFFFF" stroke-width="1"/>
<circle cx="1054.4" cy="657.6" r="4.6" fill="#000"/>
<circle cx="1053.1" cy="655.9" r="4.4" fill="#969696" stroke="#FFFFFF" stroke-width="1"/>
<circle cx="1086.1" cy="665.6" r="4.6" fill="#000"/>
<circle cx="1084.8" cy="663.8" r="4.4" fill="#969696" stroke="#FFFFFF" stroke-width="1"/>
<circle cx="1117.8" cy="665.6" r="4.6" fill="#000"/>
<circle cx="1116.5" cy="663.8" r="4.4" fill="#969696" stroke="#FFFFFF" stroke-width="1"/>
<circle cx="1149.4" cy="880.3" r="4.6" fill="#000"/>
<circle cx="1148.1" cy="878.5" r="4.4" fill="#969696" stroke="#FFFFFF" stroke-width="1"/>
<circle cx="1181.1" cy="671.7" r="4.6" fill="#000"/>
<circle cx="1179.8" cy="669.9" r="4.4" fill="#969696" stroke="#FFFFFF" stroke-width="1"/>
<circle cx="1212.8" cy="880.3" r="4.6" fill="#000"/>
<circle cx="1211.5" cy="878.5" r="4.4" fill="#969696" stroke="#FFFFFF" stroke-width="1"/>
<circle cx="1244.5" cy="671.7" r="4.6" fill="#000"/>
<circle cx="1243.2" cy="669.9" r="4.4" fill="#969696" stroke="#FFFFFF" stroke-width="1"/>
<circle cx="1276.1" cy="661.3" r="4.6" fill="#000"/>
<circle cx="1274.8" cy="659.5" r="4.4" fill="#969696" stroke="#FFFFFF" stroke-width="1"/>
<text x="740.9" y="627" font-size="16.5" font-weight="300" font-family="'Liberation Serif','Noto Sans CJK TC',serif" textLength="60" lengthAdjust="spacingAndGlyphs" transform="rotate(-90 740.9 627)">19年05月</text>
<text x="772.6" y="627" font-size="16.5" font-weight="300" font-family="'Liberation Serif','Noto Sans CJK TC',serif" textLength="60" lengthAdjust="spacingAndGlyphs" transform="rotate(-90 772.6 627)">19年06月</text>
<text x="804.3" y="627" font-size="16.5" font-weight="300" font-family="'Liberation Serif','Noto Sans CJK TC',serif" textLength="60" lengthAdjust="spacingAndGlyphs" transform="rotate(-90 804.3 627)">19年07月</text>
<text x="835.9" y="627" font-size="16.5" font-weight="300" font-family="'Liberation Serif','Noto Sans CJK TC',serif" textLength="60" lengthAdjust="spacingAndGlyphs" transform="rotate(-90 835.9 627)">19年08月</text>
<text x="867.6" y="627" font-size="16.5" font-weight="300" font-family="'Liberation Serif','Noto Sans CJK TC',serif" textLength="60" lengthAdjust="spacingAndGlyphs" transform="rotate(-90 867.6 627)">19年09月</text>
<text x="899.3" y="627" font-size="16.5" font-weight="300" font-family="'Liberation Serif','Noto Sans CJK TC',serif" textLength="60" lengthAdjust="spacingAndGlyphs" transform="rotate(-90 899.3 627)">19年10月</text>
<text x="931.0" y="627" font-size="16.5" font-weight="300" font-family="'Liberation Serif','Noto Sans CJK TC',serif" textLength="60" lengthAdjust="spacingAndGlyphs" transform="rotate(-90 931.0 627)">19年11月</text>
<text x="962.6" y="627" font-size="16.5" font-weight="300" font-family="'Liberation Serif','Noto Sans CJK TC',serif" textLength="60" lengthAdjust="spacingAndGlyphs" transform="rotate(-90 962.6 627)">19年12月</text>
<text x="994.3" y="627" font-size="16.5" font-weight="300" font-family="'Liberation Serif','Noto Sans CJK TC',serif" textLength="60" lengthAdjust="spacingAndGlyphs" transform="rotate(-90 994.3 627)">20年01月</text>
<text x="1026.0" y="627" font-size="16.5" font-weight="300" font-family="'Liberation Serif','Noto Sans CJK TC',serif" textLength="60" lengthAdjust="spacingAndGlyphs" transform="rotate(-90 1026.0 627)">20年02月</text>
<text x="1057.6" y="627" font-size="16.5" font-weight="300" font-family="'Liberation Serif','Noto Sans CJK TC',serif" textLength="60" lengthAdjust="spacingAndGlyphs" transform="rotate(-90 1057.6 627)">20年03月</text>
<text x="1089.3" y="627" font-size="16.5" font-weight="300" font-family="'Liberation Serif','Noto Sans CJK TC',serif" textLength="60" lengthAdjust="spacingAndGlyphs" transform="rotate(-90 1089.3 627)">20年04月</text>
<text x="1121.0" y="627" font-size="16.5" font-weight="300" font-family="'Liberation Serif','Noto Sans CJK TC',serif" textLength="60" lengthAdjust="spacingAndGlyphs" transform="rotate(-90 1121.0 627)">20年05月</text>
<text x="1152.6" y="627" font-size="16.5" font-weight="300" font-family="'Liberation Serif','Noto Sans CJK TC',serif" textLength="60" lengthAdjust="spacingAndGlyphs" transform="rotate(-90 1152.6 627)">20年06月</text>
<text x="1184.3" y="627" font-size="16.5" font-weight="300" font-family="'Liberation Serif','Noto Sans CJK TC',serif" textLength="60" lengthAdjust="spacingAndGlyphs" transform="rotate(-90 1184.3 627)">20年07月</text>
<text x="1216.0" y="627" font-size="16.5" font-weight="300" font-family="'Liberation Serif','Noto Sans CJK TC',serif" textLength="60" lengthAdjust="spacingAndGlyphs" transform="rotate(-90 1216.0 627)">20年08月</text>
<text x="1247.7" y="627" font-size="16.5" font-weight="300" font-family="'Liberation Serif','Noto Sans CJK TC',serif" textLength="60" lengthAdjust="spacingAndGlyphs" transform="rotate(-90 1247.7 627)">20年09月</text>
<text x="1279.3" y="627" font-size="16.5" font-weight="300" font-family="'Liberation Serif','Noto Sans CJK TC',serif" textLength="60" lengthAdjust="spacingAndGlyphs" transform="rotate(-90 1279.3 627)">20年10月</text>
<text x="705" y="641.0" font-size="18" fill="#FF6600" font-family="'Liberation Sans','Noto Sans CJK TC',sans-serif" text-anchor="end" textLength="16" lengthAdjust="spacingAndGlyphs" >40</text>
<text x="705" y="671.5" font-size="18" fill="#FF6600" font-family="'Liberation Sans','Noto Sans CJK TC',sans-serif" text-anchor="end" textLength="16" lengthAdjust="spacingAndGlyphs" >35</text>
<text x="705" y="702.0" font-size="18" fill="#FF6600" font-family="'Liberation Sans','Noto Sans CJK TC',sans-serif" text-anchor="end" textLength="16" lengthAdjust="spacingAndGlyphs" >30</text>
<text x="705" y="732.5" font-size="18" fill="#FF6600" font-family="'Liberation Sans','Noto Sans CJK TC',sans-serif" text-anchor="end" textLength="16" lengthAdjust="spacingAndGlyphs" >25</text>
<text x="705" y="763.0" font-size="18" fill="#FF6600" font-family="'Liberation Sans','Noto Sans CJK TC',sans-serif" text-anchor="end" textLength="16" lengthAdjust="spacingAndGlyphs" >20</text>
<text x="705" y="793.5" font-size="18" fill="#FF6600" font-family="'Liberation Sans','Noto Sans CJK TC',sans-serif" text-anchor="end" textLength="16" lengthAdjust="spacingAndGlyphs" >15</text>
<text x="705" y="824.0" font-size="18" fill="#FF6600" font-family="'Liberation Sans','Noto Sans CJK TC',sans-serif" text-anchor="end" textLength="16" lengthAdjust="spacingAndGlyphs" >10</text>
<text x="705" y="854.5" font-size="18" fill="#FF6600" font-family="'Liberation Sans','Noto Sans CJK TC',sans-serif" text-anchor="end" textLength="8" lengthAdjust="spacingAndGlyphs" >5</text>
<text x="705" y="885.0" font-size="18" fill="#FF6600" font-family="'Liberation Sans','Noto Sans CJK TC',sans-serif" text-anchor="end" textLength="8" lengthAdjust="spacingAndGlyphs" >0</text>
<text x="1304" y="641.0" font-size="18" fill="#0000FF" font-family="'Noto Sans CJK TC',sans-serif" font-weight="300" textLength="19.5" lengthAdjust="spacingAndGlyphs" >66.</text>
<text x="1304" y="681.66" font-size="18" fill="#0000FF" font-family="'Noto Sans CJK TC',sans-serif" font-weight="300" textLength="19.5" lengthAdjust="spacingAndGlyphs" >64.</text>
<text x="1304" y="722.3199999999999" font-size="18" fill="#0000FF" font-family="'Noto Sans CJK TC',sans-serif" font-weight="300" textLength="19.5" lengthAdjust="spacingAndGlyphs" >62.</text>
<text x="1304" y="762.98" font-size="18" fill="#0000FF" font-family="'Noto Sans CJK TC',sans-serif" font-weight="300" textLength="19.5" lengthAdjust="spacingAndGlyphs" >60.</text>
<text x="1304" y="803.64" font-size="18" fill="#0000FF" font-family="'Noto Sans CJK TC',sans-serif" font-weight="300" textLength="19.5" lengthAdjust="spacingAndGlyphs" >58.</text>
<text x="1304" y="844.3" font-size="18" fill="#0000FF" font-family="'Noto Sans CJK TC',sans-serif" font-weight="300" textLength="19.5" lengthAdjust="spacingAndGlyphs" >56.</text>
<text x="1304" y="884.96" font-size="18" fill="#0000FF" font-family="'Noto Sans CJK TC',sans-serif" font-weight="300" textLength="19.5" lengthAdjust="spacingAndGlyphs" >54.</text>
<rect x="722.5" y="827.5" width="205.5" height="49" fill="#CCCCFF" stroke="#808080" stroke-width="1"/>
<line x1="733" y1="842" x2="763" y2="842" stroke="#000080" stroke-width="3" />
<polygon points="748.5,836.5 754.0,842.0 748.5,847.5 743.0,842.0" fill="#000080"/>
<text x="766" y="851" font-size="16" fill="#000" font-family="'Liberation Serif','Noto Sans CJK TC',serif" textLength="150" lengthAdjust="spacingAndGlyphs" >大戶(扣除外資法人)</text>
<line x1="733" y1="864" x2="763" y2="864" stroke="#FFFF00" stroke-width="3" />
<circle cx="748.5" cy="864.0" r="4.5" fill="#969696" stroke="#FFFFFF" stroke-width="1"/>
<text x="766" y="874" font-size="16" fill="#000" font-family="'Liberation Serif','Noto Sans CJK TC',serif" textLength="86" lengthAdjust="spacingAndGlyphs" >月收盤股價</text>
<rect x="678" y="555" width="660" height="1" fill="#000" />
<rect x="1337" y="555" width="1" height="344" fill="#000" />
<text x="34" y="922" font-size="12" fill="#000" font-family="'Noto Sans CJK TC',sans-serif" textLength="1175" lengthAdjust="spacingAndGlyphs" >*本著作權係屬「投資教練網站」所有，僅供訂戶非商業目的之自用。禁止以紙張或電子媒介、其他任何形式翻印、複製、傳送、引用部份或全部內容。資料來源或推導之數字雖已經過仔細求證，但不保證毫無錯誤。</text>
</svg>
</body></html>
